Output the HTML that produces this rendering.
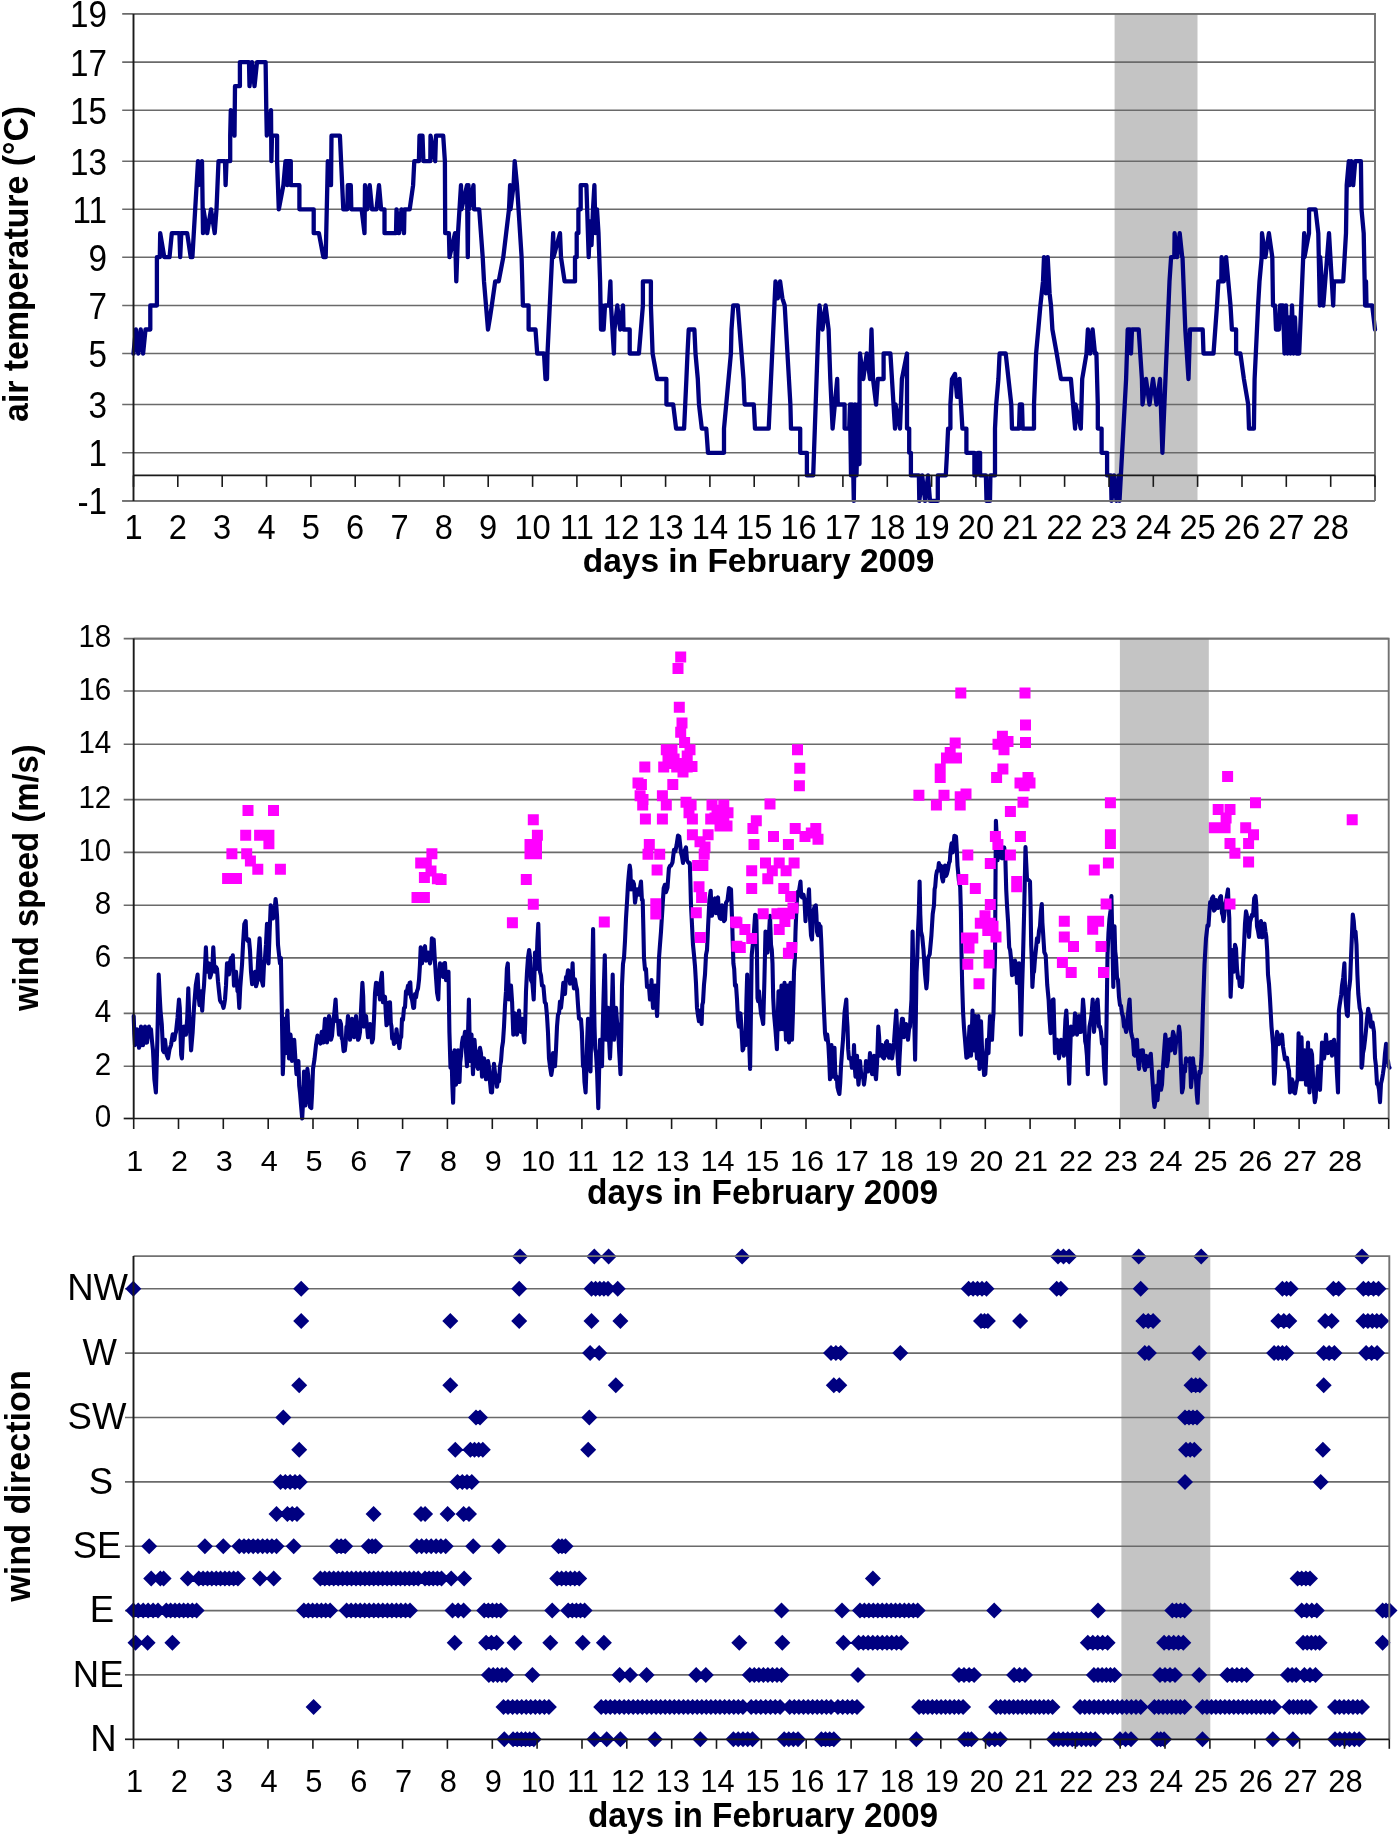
<!DOCTYPE html>
<html><head><meta charset="utf-8"><style>
html,body{margin:0;padding:0;background:#fff;}
svg{display:block;will-change:transform;}
text{font-family:"Liberation Sans", sans-serif;fill:#000;}
</style></head><body>
<svg width="1400" height="1835" viewBox="0 0 1400 1835">
<rect width="1400" height="1835" fill="#fff"/>
<rect x="1114.6" y="13.9" width="82.9" height="487.0" fill="#c4c4c4"/>
<line x1="122.2" y1="13.9" x2="1375.0" y2="13.9" stroke="#6a6a6a" stroke-width="1.6"/>
<line x1="122.2" y1="62.1" x2="1375.0" y2="62.1" stroke="#6a6a6a" stroke-width="1.6"/>
<line x1="122.2" y1="110.2" x2="1375.0" y2="110.2" stroke="#6a6a6a" stroke-width="1.6"/>
<line x1="122.2" y1="161.2" x2="1375.0" y2="161.2" stroke="#6a6a6a" stroke-width="1.6"/>
<line x1="122.2" y1="209.3" x2="1375.0" y2="209.3" stroke="#6a6a6a" stroke-width="1.6"/>
<line x1="122.2" y1="257.2" x2="1375.0" y2="257.2" stroke="#6a6a6a" stroke-width="1.6"/>
<line x1="122.2" y1="305.5" x2="1375.0" y2="305.5" stroke="#6a6a6a" stroke-width="1.6"/>
<line x1="122.2" y1="353.5" x2="1375.0" y2="353.5" stroke="#6a6a6a" stroke-width="1.6"/>
<line x1="122.2" y1="404.5" x2="1375.0" y2="404.5" stroke="#6a6a6a" stroke-width="1.6"/>
<line x1="122.2" y1="452.8" x2="1375.0" y2="452.8" stroke="#6a6a6a" stroke-width="1.6"/>
<line x1="122.2" y1="500.9" x2="1375.0" y2="500.9" stroke="#6a6a6a" stroke-width="1.6"/>
<polyline points="133.5,353.5 135.9,329.5 138.3,353.5 140.7,329.5 143.1,353.5 145.5,329.5 150.3,329.5 150.3,305.5 156.9,305.5 156.9,257.2 159.8,257.2 160.2,233.2 164.3,257.2 169.5,257.2 171.8,233.2 179.4,233.2 180.2,257.2 181.3,233.2 187.2,233.2 190.7,257.2 192.4,257.2 198.0,161.2 198.6,185.2 202.0,161.2 203.0,233.2 203.5,209.3 207.2,233.2 211.0,209.3 214.7,233.2 216.5,209.3 217.5,185.2 218.5,161.2 225.0,161.2 225.6,185.2 226.5,161.2 230.2,161.2 230.2,135.7 230.8,110.2 234.5,135.7 235.0,86.2 239.9,86.2 239.9,62.1 249.0,62.1 249.5,86.2 252.0,62.1 254.5,86.2 257.0,62.1 265.6,62.1 266.3,110.2 266.8,135.7 271.0,110.2 271.4,161.2 272.0,135.7 277.1,135.7 277.1,161.2 278.8,209.3 283.4,185.2 285.5,161.2 287.0,161.2 287.3,185.2 287.8,161.2 290.8,161.2 290.8,185.2 299.4,185.2 299.4,209.3 313.7,209.3 313.7,233.2 318.9,233.2 323.4,257.2 325.7,257.2 327.3,185.2 327.8,161.2 331.0,185.2 331.5,135.7 339.9,135.7 343.3,209.3 347.3,209.3 347.8,185.2 350.8,185.2 351.3,209.3 361.6,209.3 364.5,233.2 365.0,185.2 367.3,209.3 369.7,185.2 372.0,209.3 376.5,209.3 379.0,185.2 381.1,209.3 384.5,209.3 384.5,233.2 396.0,233.2 396.5,209.3 399.0,233.2 401.5,209.3 404.0,233.2 404.5,209.3 409.7,209.3 413.1,185.2 414.3,161.2 418.9,161.2 419.5,135.7 422.5,135.7 423.4,161.2 430.3,161.2 430.5,135.7 435.2,161.2 436.0,135.7 443.2,135.7 444.9,161.2 445.2,233.2 448.9,233.2 449.5,257.2 455.0,233.2 456.3,281.4 458.0,233.2 461.0,185.2 461.5,209.3 467.0,185.2 467.8,257.2 468.5,185.2 469.0,209.3 473.5,185.2 474.0,209.3 479.2,209.3 482.7,257.2 484.0,281.4 486.0,305.5 488.0,329.5 490.0,317.5 491.8,305.5 495.2,281.4 498.7,281.4 503.3,257.2 509.0,209.3 510.1,185.2 510.5,209.3 513.6,185.2 514.7,161.2 517.0,185.2 521.6,257.2 522.3,281.4 522.9,305.5 528.6,305.5 528.6,329.5 535.5,329.5 537.2,353.5 544.0,353.5 545.5,379.0 547.0,379.0 547.5,353.5 553.2,233.2 553.5,257.2 560.0,233.2 561.0,257.2 564.6,281.4 575.0,281.4 575.0,257.2 576.7,257.2 576.7,233.2 578.4,233.2 578.4,209.3 580.7,209.3 580.7,185.2 586.4,185.2 588.7,257.2 590.0,221.3 591.5,245.2 593.0,209.3 594.4,185.2 595.5,233.2 597.0,209.3 598.5,233.2 600.1,281.4 601.0,329.5 602.0,305.5 603.6,329.5 605.0,305.5 609.0,305.5 610.4,281.4 611.0,305.5 613.9,353.5 614.5,329.5 617.3,305.5 620.2,329.5 623.0,305.5 623.5,329.5 629.7,329.5 629.7,353.5 638.9,353.5 642.9,305.5 642.9,281.4 650.9,281.4 650.9,305.5 652.6,353.5 657.2,379.0 666.4,379.0 666.4,404.5 673.2,404.5 676.1,428.6 684.1,428.6 686.4,379.0 687.5,353.5 688.7,329.5 694.4,329.5 695.5,353.5 697.8,379.0 699.0,404.5 701.8,428.6 706.3,428.6 708.0,452.8 724.0,452.8 724.0,428.6 730.9,353.5 731.5,329.5 733.2,305.5 737.8,305.5 743.5,379.0 744.6,404.5 753.8,404.5 755.0,428.6 768.7,428.6 774.4,305.5 775.5,281.4 777.8,298.3 780.1,281.4 782.4,298.3 784.7,305.5 790.4,404.5 791.0,428.6 800.2,428.6 800.2,452.8 806.9,452.8 806.9,475.4 813.2,475.4 818.3,329.5 819.5,305.5 822.5,329.5 825.6,305.5 828.6,329.5 830.3,379.0 832.6,428.6 837.2,379.0 837.8,404.5 844.6,404.5 844.6,428.6 849.2,428.6 850.0,404.5 851.0,475.4 852.0,404.5 853.8,500.9 855.0,404.5 856.5,475.4 858.0,404.5 859.5,464.1 859.6,379.0 860.0,353.5 863.3,379.0 866.7,353.5 870.0,379.0 871.5,329.5 873.0,379.0 876.1,404.5 877.8,379.0 883.6,379.0 883.6,353.5 890.4,353.5 895.0,428.6 895.5,404.5 900.0,428.6 901.9,379.0 907.0,353.5 907.0,428.6 909.2,428.6 909.2,452.8 910.9,452.8 910.9,475.4 918.9,475.4 919.3,500.9 922.2,475.4 925.1,500.9 928.0,475.4 930.0,500.9 937.8,500.9 937.8,475.4 945.8,475.4 947.0,452.8 948.1,428.6 950.4,428.6 950.4,404.5 952.0,379.0 955.0,373.9 957.0,396.9 959.5,379.0 961.0,404.5 962.4,428.6 966.4,428.6 966.4,452.8 974.4,452.8 974.4,475.4 976.0,475.4 977.8,452.8 980.1,452.8 980.1,475.4 985.9,475.4 986.5,500.9 990.0,500.9 990.4,475.4 995.0,475.4 995.0,428.6 996.2,404.5 998.4,379.0 999.6,353.5 1005.3,353.5 1005.7,353.5 1011.3,404.5 1012.0,428.6 1019.0,428.6 1019.8,404.5 1022.0,404.5 1022.7,428.6 1034.0,428.6 1034.0,404.5 1036.1,353.5 1038.3,329.5 1040.4,305.5 1043.0,281.4 1044.0,257.2 1045.9,293.4 1047.7,257.2 1049.6,293.4 1051.0,305.5 1052.4,329.5 1056.7,353.5 1061.0,379.0 1070.9,379.0 1075.1,428.6 1075.5,404.5 1080.8,428.6 1082.2,379.0 1086.5,353.5 1087.9,329.5 1090.3,353.5 1092.6,329.5 1095.0,353.5 1096.4,353.5 1097.8,404.5 1097.8,428.6 1101.6,428.6 1101.6,452.8 1107.1,452.8 1107.1,475.4 1111.0,475.4 1111.5,500.9 1114.0,475.4 1116.5,500.9 1119.0,475.4 1119.5,500.9 1126.1,379.0 1127.7,329.5 1130.0,329.5 1131.0,353.5 1132.0,329.5 1138.7,329.5 1141.9,379.0 1142.5,404.5 1146.0,379.0 1149.5,404.5 1153.0,379.0 1156.5,404.5 1160.0,379.0 1162.4,452.8 1169.5,281.4 1171.1,257.2 1174.3,257.2 1174.6,233.2 1177.1,257.2 1179.7,233.2 1182.2,257.2 1182.5,257.2 1185.3,329.5 1188.5,379.0 1190.0,329.5 1202.7,329.5 1203.5,353.5 1205.0,353.5 1213.5,353.5 1217.0,305.5 1218.4,281.4 1221.3,281.4 1221.6,257.2 1223.8,281.4 1226.1,257.2 1228.3,281.4 1230.5,305.5 1231.9,329.5 1236.1,329.5 1236.1,353.5 1240.4,353.5 1243.9,379.0 1248.2,404.5 1249.0,428.6 1253.9,428.6 1254.6,379.0 1258.1,305.5 1259.5,281.4 1261.7,257.2 1262.0,233.2 1265.4,257.2 1268.9,233.2 1272.3,257.2 1273.0,305.5 1275.0,305.5 1276.0,329.5 1279.0,329.5 1280.0,305.5 1283.0,305.5 1284.5,353.5 1286.0,305.5 1287.5,353.5 1289.0,317.5 1290.5,353.5 1292.0,305.5 1293.5,353.5 1295.0,317.5 1296.5,353.5 1299.2,353.5 1304.2,233.2 1304.5,257.2 1309.0,233.2 1309.1,209.3 1315.5,209.3 1318.3,233.2 1319.8,305.5 1320.2,257.2 1323.3,305.5 1329.0,233.2 1330.4,257.2 1333.2,305.5 1334.0,281.4 1343.2,281.4 1346.0,233.2 1346.7,185.2 1348.8,161.2 1349.2,185.2 1351.2,161.2 1353.2,185.2 1355.2,161.2 1360.9,161.2 1361.5,209.3 1363.7,233.2 1365.1,305.5 1366.0,281.4 1366.5,305.5 1372.2,305.5 1375.0,329.5" fill="none" stroke="#000080" stroke-width="4.3" stroke-linejoin="round" stroke-linecap="round"/>
<path d="M133.5 13.9 H1375.0 V500.9" fill="none" stroke="#727272" stroke-width="1.9"/>
<line x1="122.2" y1="500.9" x2="1375.0" y2="500.9" stroke="#727272" stroke-width="1.9"/>
<line x1="133.5" y1="475.4" x2="1375.0" y2="475.4" stroke="#1a1a1a" stroke-width="1.7"/>
<line x1="133.5" y1="475.4" x2="133.5" y2="486.9" stroke="#1a1a1a" stroke-width="1.6"/>
<line x1="177.8" y1="475.4" x2="177.8" y2="486.9" stroke="#1a1a1a" stroke-width="1.6"/>
<line x1="222.2" y1="475.4" x2="222.2" y2="486.9" stroke="#1a1a1a" stroke-width="1.6"/>
<line x1="266.5" y1="475.4" x2="266.5" y2="486.9" stroke="#1a1a1a" stroke-width="1.6"/>
<line x1="310.9" y1="475.4" x2="310.9" y2="486.9" stroke="#1a1a1a" stroke-width="1.6"/>
<line x1="355.2" y1="475.4" x2="355.2" y2="486.9" stroke="#1a1a1a" stroke-width="1.6"/>
<line x1="399.5" y1="475.4" x2="399.5" y2="486.9" stroke="#1a1a1a" stroke-width="1.6"/>
<line x1="443.9" y1="475.4" x2="443.9" y2="486.9" stroke="#1a1a1a" stroke-width="1.6"/>
<line x1="488.2" y1="475.4" x2="488.2" y2="486.9" stroke="#1a1a1a" stroke-width="1.6"/>
<line x1="532.6" y1="475.4" x2="532.6" y2="486.9" stroke="#1a1a1a" stroke-width="1.6"/>
<line x1="576.9" y1="475.4" x2="576.9" y2="486.9" stroke="#1a1a1a" stroke-width="1.6"/>
<line x1="621.2" y1="475.4" x2="621.2" y2="486.9" stroke="#1a1a1a" stroke-width="1.6"/>
<line x1="665.6" y1="475.4" x2="665.6" y2="486.9" stroke="#1a1a1a" stroke-width="1.6"/>
<line x1="709.9" y1="475.4" x2="709.9" y2="486.9" stroke="#1a1a1a" stroke-width="1.6"/>
<line x1="754.2" y1="475.4" x2="754.2" y2="486.9" stroke="#1a1a1a" stroke-width="1.6"/>
<line x1="798.6" y1="475.4" x2="798.6" y2="486.9" stroke="#1a1a1a" stroke-width="1.6"/>
<line x1="842.9" y1="475.4" x2="842.9" y2="486.9" stroke="#1a1a1a" stroke-width="1.6"/>
<line x1="887.3" y1="475.4" x2="887.3" y2="486.9" stroke="#1a1a1a" stroke-width="1.6"/>
<line x1="931.6" y1="475.4" x2="931.6" y2="486.9" stroke="#1a1a1a" stroke-width="1.6"/>
<line x1="975.9" y1="475.4" x2="975.9" y2="486.9" stroke="#1a1a1a" stroke-width="1.6"/>
<line x1="1020.3" y1="475.4" x2="1020.3" y2="486.9" stroke="#1a1a1a" stroke-width="1.6"/>
<line x1="1064.6" y1="475.4" x2="1064.6" y2="486.9" stroke="#1a1a1a" stroke-width="1.6"/>
<line x1="1109.0" y1="475.4" x2="1109.0" y2="486.9" stroke="#1a1a1a" stroke-width="1.6"/>
<line x1="1153.3" y1="475.4" x2="1153.3" y2="486.9" stroke="#1a1a1a" stroke-width="1.6"/>
<line x1="1197.6" y1="475.4" x2="1197.6" y2="486.9" stroke="#1a1a1a" stroke-width="1.6"/>
<line x1="1242.0" y1="475.4" x2="1242.0" y2="486.9" stroke="#1a1a1a" stroke-width="1.6"/>
<line x1="1286.3" y1="475.4" x2="1286.3" y2="486.9" stroke="#1a1a1a" stroke-width="1.6"/>
<line x1="1330.7" y1="475.4" x2="1330.7" y2="486.9" stroke="#1a1a1a" stroke-width="1.6"/>
<line x1="1375.0" y1="475.4" x2="1375.0" y2="486.9" stroke="#1a1a1a" stroke-width="1.6"/>
<line x1="133.5" y1="13.9" x2="133.5" y2="500.9" stroke="#1a1a1a" stroke-width="1.9"/>
<text transform="translate(107.0,27.4) scale(0.91,1)" font-size="36.5" font-weight="normal" text-anchor="end">19</text>
<text transform="translate(107.0,75.6) scale(0.91,1)" font-size="36.5" font-weight="normal" text-anchor="end">17</text>
<text transform="translate(107.0,123.7) scale(0.91,1)" font-size="36.5" font-weight="normal" text-anchor="end">15</text>
<text transform="translate(107.0,174.7) scale(0.91,1)" font-size="36.5" font-weight="normal" text-anchor="end">13</text>
<text transform="translate(107.0,222.8) scale(0.91,1)" font-size="36.5" font-weight="normal" text-anchor="end">11</text>
<text transform="translate(107.0,270.7) scale(0.91,1)" font-size="36.5" font-weight="normal" text-anchor="end">9</text>
<text transform="translate(107.0,319.0) scale(0.91,1)" font-size="36.5" font-weight="normal" text-anchor="end">7</text>
<text transform="translate(107.0,367.0) scale(0.91,1)" font-size="36.5" font-weight="normal" text-anchor="end">5</text>
<text transform="translate(107.0,418.0) scale(0.91,1)" font-size="36.5" font-weight="normal" text-anchor="end">3</text>
<text transform="translate(107.0,466.3) scale(0.91,1)" font-size="36.5" font-weight="normal" text-anchor="end">1</text>
<text transform="translate(107.0,514.4) scale(0.91,1)" font-size="36.5" font-weight="normal" text-anchor="end">-1</text>
<text transform="translate(133.5,538.8) scale(0.92,1)" font-size="35.5" font-weight="normal" text-anchor="middle">1</text>
<text transform="translate(177.8,538.8) scale(0.92,1)" font-size="35.5" font-weight="normal" text-anchor="middle">2</text>
<text transform="translate(222.2,538.8) scale(0.92,1)" font-size="35.5" font-weight="normal" text-anchor="middle">3</text>
<text transform="translate(266.5,538.8) scale(0.92,1)" font-size="35.5" font-weight="normal" text-anchor="middle">4</text>
<text transform="translate(310.9,538.8) scale(0.92,1)" font-size="35.5" font-weight="normal" text-anchor="middle">5</text>
<text transform="translate(355.2,538.8) scale(0.92,1)" font-size="35.5" font-weight="normal" text-anchor="middle">6</text>
<text transform="translate(399.5,538.8) scale(0.92,1)" font-size="35.5" font-weight="normal" text-anchor="middle">7</text>
<text transform="translate(443.9,538.8) scale(0.92,1)" font-size="35.5" font-weight="normal" text-anchor="middle">8</text>
<text transform="translate(488.2,538.8) scale(0.92,1)" font-size="35.5" font-weight="normal" text-anchor="middle">9</text>
<text transform="translate(532.6,538.8) scale(0.92,1)" font-size="35.5" font-weight="normal" text-anchor="middle">10</text>
<text transform="translate(576.9,538.8) scale(0.92,1)" font-size="35.5" font-weight="normal" text-anchor="middle">11</text>
<text transform="translate(621.2,538.8) scale(0.92,1)" font-size="35.5" font-weight="normal" text-anchor="middle">12</text>
<text transform="translate(665.6,538.8) scale(0.92,1)" font-size="35.5" font-weight="normal" text-anchor="middle">13</text>
<text transform="translate(709.9,538.8) scale(0.92,1)" font-size="35.5" font-weight="normal" text-anchor="middle">14</text>
<text transform="translate(754.2,538.8) scale(0.92,1)" font-size="35.5" font-weight="normal" text-anchor="middle">15</text>
<text transform="translate(798.6,538.8) scale(0.92,1)" font-size="35.5" font-weight="normal" text-anchor="middle">16</text>
<text transform="translate(842.9,538.8) scale(0.92,1)" font-size="35.5" font-weight="normal" text-anchor="middle">17</text>
<text transform="translate(887.3,538.8) scale(0.92,1)" font-size="35.5" font-weight="normal" text-anchor="middle">18</text>
<text transform="translate(931.6,538.8) scale(0.92,1)" font-size="35.5" font-weight="normal" text-anchor="middle">19</text>
<text transform="translate(975.9,538.8) scale(0.92,1)" font-size="35.5" font-weight="normal" text-anchor="middle">20</text>
<text transform="translate(1020.3,538.8) scale(0.92,1)" font-size="35.5" font-weight="normal" text-anchor="middle">21</text>
<text transform="translate(1064.6,538.8) scale(0.92,1)" font-size="35.5" font-weight="normal" text-anchor="middle">22</text>
<text transform="translate(1109.0,538.8) scale(0.92,1)" font-size="35.5" font-weight="normal" text-anchor="middle">23</text>
<text transform="translate(1153.3,538.8) scale(0.92,1)" font-size="35.5" font-weight="normal" text-anchor="middle">24</text>
<text transform="translate(1197.6,538.8) scale(0.92,1)" font-size="35.5" font-weight="normal" text-anchor="middle">25</text>
<text transform="translate(1242.0,538.8) scale(0.92,1)" font-size="35.5" font-weight="normal" text-anchor="middle">26</text>
<text transform="translate(1286.3,538.8) scale(0.92,1)" font-size="35.5" font-weight="normal" text-anchor="middle">27</text>
<text transform="translate(1330.7,538.8) scale(0.92,1)" font-size="35.5" font-weight="normal" text-anchor="middle">28</text>
<text transform="translate(758.6,572.2) scale(0.985,1)" font-size="34" font-weight="bold" text-anchor="middle">days in February 2009</text>
<text transform="translate(28.4,263.9) rotate(-90) scale(0.966,1)" font-size="35" font-weight="bold" text-anchor="middle">air temperature (°C)</text>
<rect x="1119.9" y="638.6" width="88.9" height="479.9" fill="#c4c4c4"/>
<line x1="123.7" y1="1066.3" x2="1388.7" y2="1066.3" stroke="#6a6a6a" stroke-width="1.6"/>
<line x1="123.7" y1="1013.4" x2="1388.7" y2="1013.4" stroke="#6a6a6a" stroke-width="1.6"/>
<line x1="123.7" y1="957.9" x2="1388.7" y2="957.9" stroke="#6a6a6a" stroke-width="1.6"/>
<line x1="123.7" y1="905.3" x2="1388.7" y2="905.3" stroke="#6a6a6a" stroke-width="1.6"/>
<line x1="123.7" y1="852.4" x2="1388.7" y2="852.4" stroke="#6a6a6a" stroke-width="1.6"/>
<line x1="123.7" y1="799.6" x2="1388.7" y2="799.6" stroke="#6a6a6a" stroke-width="1.6"/>
<line x1="123.7" y1="744.2" x2="1388.7" y2="744.2" stroke="#6a6a6a" stroke-width="1.6"/>
<line x1="123.7" y1="691.0" x2="1388.7" y2="691.0" stroke="#6a6a6a" stroke-width="1.6"/>
<line x1="123.7" y1="638.6" x2="1388.7" y2="638.6" stroke="#6a6a6a" stroke-width="1.6"/>
<polyline points="133.7,1016.0 134.3,1033.9 135.0,1045.1 136.0,1043.7 137.0,1029.3 138.0,1035.7 139.0,1047.8 140.0,1045.1 141.0,1026.6 142.0,1035.2 143.0,1045.1 144.0,1038.4 145.0,1026.6 146.0,1042.7 147.0,1042.5 148.0,1034.4 149.0,1026.6 150.0,1036.5 151.0,1029.3 152.0,1041.1 153.0,1050.4 154.4,1079.4 155.9,1092.4 157.3,1042.1 158.7,974.5 159.6,994.1 160.5,1010.6 161.8,1024.5 163.0,1050.4 164.0,1052.1 165.0,1039.8 166.5,1054.2 168.0,1058.4 169.5,1049.4 171.0,1045.1 172.7,1034.2 174.4,1039.8 175.2,1034.5 176.0,1031.9 177.5,1018.0 179.0,999.5 179.8,1008.3 180.5,1034.6 181.2,1054.9 181.9,1058.4 182.9,1035.9 184.0,1026.6 185.0,1034.5 186.0,1034.6 187.2,1018.7 188.3,988.4 189.2,1015.2 190.0,1026.6 191.1,1050.4 192.6,1032.8 194.0,1007.9 195.8,985.1 197.6,974.5 198.6,996.0 199.5,1005.1 200.2,996.6 201.0,991.2 202.2,1010.6 203.1,995.4 204.0,985.6 204.9,968.7 205.9,947.4 207.0,971.8 208.0,966.7 209.0,963.4 210.0,977.5 211.0,974.5 212.2,969.2 213.3,947.4 214.2,965.0 215.0,971.8 216.0,966.9 217.0,969.0 218.0,981.5 219.0,991.2 220.0,1000.4 221.0,1002.3 222.2,1003.4 223.5,1007.9 224.2,1004.6 225.0,999.5 226.0,985.4 227.0,963.4 228.0,963.3 229.0,974.5 230.0,962.4 231.0,957.9 231.9,961.5 232.8,955.3 234.0,985.6 235.0,977.3 236.0,971.8 236.8,981.0 237.5,991.2 238.4,992.2 239.3,1007.9 240.2,988.1 241.0,977.3 242.0,964.8 243.0,944.8 244.3,924.1 245.7,921.1 246.3,937.3 247.0,939.5 248.0,941.0 249.0,939.5 250.0,950.5 251.0,971.8 252.1,984.1 253.1,982.9 254.1,977.5 255.0,971.8 256.0,986.3 257.0,982.9 258.3,956.8 259.6,938.2 260.3,953.7 261.0,980.1 262.0,981.5 263.0,985.6 264.0,964.5 265.0,957.9 266.0,944.2 267.0,923.7 267.8,939.8 268.5,963.4 269.6,932.5 270.7,905.3 271.9,910.4 273.0,918.4 274.0,912.7 275.0,905.3 275.6,899.0 276.3,905.3 277.1,916.8 278.0,944.8 279.0,954.4 280.0,963.4 280.9,957.9 281.9,1014.3 282.8,1074.1 283.6,1054.6 284.4,1018.7 285.5,1053.1 286.4,1028.2 287.4,1010.6 288.2,1031.8 289.0,1058.4 289.8,1037.3 290.5,1034.6 291.2,1041.8 292.0,1061.0 293.1,1054.4 294.2,1039.8 295.4,1059.2 296.5,1074.1 297.4,1064.5 298.4,1061.0 299.2,1085.5 300.0,1092.4 301.1,1106.1 302.2,1118.5 303.1,1101.1 304.0,1071.5 304.8,1095.5 305.5,1105.5 306.4,1095.2 307.4,1068.9 308.2,1075.8 309.0,1092.4 310.1,1107.0 311.3,1108.1 312.1,1093.1 313.0,1068.9 314.5,1059.1 316.0,1045.1 317.5,1035.6 319.0,1039.8 320.4,1043.6 321.7,1031.9 322.6,1038.1 323.5,1042.5 324.2,1029.7 325.0,1018.7 326.0,1023.5 327.0,1042.5 328.0,1023.4 329.0,1016.0 330.0,1021.2 331.0,1039.8 332.0,1036.0 333.0,1024.0 334.3,1013.6 335.6,999.5 336.3,1013.4 337.0,1021.3 338.0,1020.8 339.0,1034.6 340.0,1020.8 341.0,1024.0 341.8,1038.4 342.5,1039.8 343.6,1051.1 344.8,1050.4 345.6,1043.5 346.5,1026.6 347.2,1026.3 348.0,1016.0 349.0,1028.2 350.0,1039.8 351.0,1027.6 352.0,1018.7 353.0,1032.3 354.0,1037.2 355.0,1035.8 356.0,1016.0 357.0,1029.4 358.0,1039.8 359.0,1038.3 360.0,1031.9 361.2,1006.6 362.4,982.9 363.2,996.3 364.0,1026.6 365.0,1017.8 366.0,1016.0 367.0,1026.3 368.0,1037.2 369.0,1028.4 370.0,1024.0 371.0,1030.0 372.0,1042.5 373.0,1038.9 374.0,1018.7 375.0,993.2 376.0,982.9 377.0,983.0 378.0,994.0 379.0,989.5 380.0,999.5 380.9,980.4 381.9,972.9 383.0,1002.3 384.0,1001.6 385.0,996.8 385.8,1013.3 386.5,1025.3 387.2,1024.0 388.0,1007.9 389.0,1002.5 390.0,1002.3 390.8,1022.8 391.5,1026.6 392.2,1038.6 393.0,1034.6 393.9,1043.9 394.8,1042.5 395.6,1042.1 396.5,1029.3 397.5,1038.8 398.5,1042.5 399.4,1048.1 400.4,1037.2 401.2,1037.2 402.0,1018.7 403.0,1019.9 404.0,1007.9 405.0,1007.3 406.0,991.2 407.0,991.1 408.0,985.6 408.8,993.5 409.6,982.9 410.3,982.5 411.0,996.8 412.1,1000.1 413.3,1007.9 414.1,1007.7 415.0,994.0 416.0,997.4 417.0,991.2 418.0,988.6 419.0,980.1 419.9,966.1 420.7,947.4 421.4,962.5 422.0,963.4 423.0,950.2 424.0,950.0 425.0,946.2 426.0,960.7 427.0,957.2 428.0,952.6 429.0,958.2 430.0,963.4 430.9,958.3 431.9,938.2 432.8,946.2 433.7,939.5 434.9,961.0 436.0,977.3 437.1,993.0 438.3,999.5 439.1,975.1 440.0,963.4 441.0,974.2 442.0,971.8 443.0,976.9 444.0,963.4 445.0,963.0 446.0,980.1 447.2,975.4 448.5,971.8 449.4,1031.9 450.5,1067.6 451.5,1053.1 452.3,1084.5 453.1,1102.8 453.8,1076.0 454.5,1050.4 455.2,1076.2 456.0,1084.6 457.0,1067.1 458.0,1050.4 458.8,1057.4 459.5,1082.0 460.2,1062.2 461.0,1055.7 462.0,1042.8 463.0,1037.2 464.0,1039.0 465.0,1031.9 466.0,1051.6 467.0,1066.3 467.9,1039.4 468.9,999.5 470.0,1061.0 470.8,1042.8 471.5,1034.6 472.2,1053.8 473.0,1074.1 473.8,1051.9 474.5,1039.8 475.2,1049.6 476.0,1053.1 477.0,1066.1 478.0,1068.9 479.0,1052.6 480.0,1047.8 481.0,1053.4 482.0,1076.7 483.0,1061.1 484.0,1058.4 485.0,1063.3 486.0,1079.3 487.0,1064.4 488.0,1061.0 489.0,1067.1 490.0,1082.0 491.0,1092.2 492.0,1092.4 493.0,1077.7 494.0,1063.7 495.0,1072.9 496.0,1076.7 497.0,1086.7 498.0,1079.3 499.0,1081.4 500.0,1066.3 501.0,1061.1 502.0,1047.8 503.0,1041.7 504.0,1026.6 505.0,1005.5 506.0,991.2 506.9,968.5 507.8,963.4 509.0,999.5 510.0,993.6 511.0,985.6 512.1,1002.1 513.3,1034.6 514.1,1014.9 515.0,1013.4 516.0,1015.6 517.0,1034.6 518.0,1025.2 519.0,1010.6 520.0,1026.5 521.0,1031.9 521.8,1030.4 522.5,1018.7 523.5,1036.2 524.4,1042.5 525.2,1022.8 526.0,991.2 527.0,972.1 528.0,957.9 529.1,950.0 530.0,957.1 531.0,980.1 532.4,983.2 533.7,999.5 534.4,976.3 535.0,952.6 535.8,957.7 536.5,969.0 537.4,940.5 538.3,923.7 539.1,955.0 540.0,971.8 541.0,975.6 542.0,985.6 543.4,986.0 544.8,1002.3 545.9,1003.8 547.0,1016.0 548.0,1032.6 549.0,1058.4 550.1,1067.1 551.3,1074.9 552.1,1070.0 553.0,1053.1 554.0,1054.3 555.0,1066.3 556.0,1049.6 557.0,1026.6 558.0,1014.4 559.0,1013.4 560.0,1001.5 561.0,1007.9 562.1,997.4 563.3,982.9 564.1,990.3 565.0,994.0 566.0,977.0 567.0,977.3 568.0,970.2 569.0,971.8 570.0,983.7 571.0,982.9 571.8,980.4 572.6,963.4 573.3,982.7 574.0,988.4 575.0,979.2 576.0,985.6 577.0,989.4 578.0,1005.1 579.0,1018.6 580.0,1018.7 581.0,1019.3 581.9,1031.9 583.0,1066.3 583.8,1065.3 584.5,1082.0 585.6,1092.4 586.5,1066.3 587.2,1039.6 588.0,1018.7 589.2,1047.9 590.5,1071.5 591.8,1000.0 593.1,929.0 593.8,984.5 594.5,1026.6 595.2,1048.8 596.0,1053.1 597.1,1072.1 598.3,1108.1 599.1,1071.4 600.0,1039.8 601.0,1052.6 602.0,1066.3 602.8,1025.2 603.5,999.5 604.1,978.6 604.8,955.3 605.4,990.9 606.0,1039.8 607.0,1017.9 608.0,1007.9 609.0,1038.6 610.0,1058.4 610.8,1040.5 611.5,1013.4 612.1,998.0 612.7,974.5 613.4,1012.9 614.0,1039.8 615.0,1022.4 616.0,1007.9 617.0,1021.8 618.0,1026.6 619.2,1051.9 620.5,1074.1 621.2,1037.4 622.0,985.6 623.0,963.8 624.0,957.9 625.0,940.9 626.0,918.4 627.0,902.1 628.0,884.1 628.9,873.3 629.7,865.6 630.4,870.0 631.0,889.4 632.0,886.9 633.0,881.5 634.0,884.3 635.0,902.7 636.0,896.0 637.0,889.4 638.0,891.5 639.0,894.7 640.0,887.7 641.0,881.5 641.9,899.7 642.7,900.0 643.4,930.1 644.0,957.9 645.0,969.6 646.0,969.0 647.0,987.0 648.0,985.6 649.0,986.8 650.0,999.5 650.8,996.2 651.5,980.1 652.2,994.5 653.0,1007.9 654.0,992.4 655.0,985.6 656.0,999.8 657.1,1016.0 658.0,990.4 659.0,957.9 660.0,944.4 661.0,931.6 662.4,908.9 663.7,888.1 664.9,884.8 666.0,892.1 667.5,887.5 668.9,868.3 670.0,865.8 671.0,865.6 672.5,862.3 674.0,849.8 675.4,851.2 676.7,844.5 678.0,835.5 679.3,836.6 680.1,844.3 681.0,852.4 682.0,856.5 683.0,863.0 684.0,851.6 685.0,849.8 686.0,847.4 687.0,860.3 688.4,862.7 689.8,863.0 690.4,882.1 691.0,905.3 692.0,924.9 693.0,944.8 694.0,955.0 695.0,966.2 696.0,983.3 697.0,1007.9 698.0,1015.6 699.0,1021.3 699.6,1015.4 700.3,1010.6 701.0,1017.8 701.6,1024.0 702.3,1004.8 703.0,1002.3 704.0,984.6 705.0,974.5 706.0,954.9 707.0,950.0 708.1,926.3 709.4,900.4 710.7,890.8 711.4,907.8 712.0,915.8 713.0,906.8 714.0,900.0 715.0,898.4 716.0,913.2 717.0,899.0 718.0,897.4 719.0,914.6 720.0,918.4 721.0,918.8 722.0,905.3 723.0,914.3 724.0,921.1 725.0,919.7 726.0,902.7 727.5,900.2 729.0,888.1 730.0,896.7 731.0,889.4 732.2,923.2 733.4,963.4 734.2,969.0 735.0,985.6 736.0,984.9 737.0,999.5 738.0,1019.8 739.0,1026.6 739.8,1016.0 740.5,1013.4 741.5,1028.9 742.6,1050.4 743.3,1049.1 744.0,1034.6 744.8,1032.8 745.5,1045.1 746.4,1001.5 747.2,974.5 747.9,1013.3 748.5,1039.8 749.3,1046.0 750.1,1068.9 750.9,1015.3 751.7,955.3 752.9,943.7 754.0,931.6 755.1,914.7 756.3,915.8 756.9,949.8 757.5,998.1 758.2,1001.2 759.0,991.2 760.0,1003.6 761.0,1013.4 762.1,1018.4 763.2,1024.0 764.4,980.5 765.5,931.6 766.5,947.7 767.5,952.6 768.8,937.6 770.0,915.8 771.0,944.8 771.8,949.9 772.5,963.4 773.2,997.8 774.0,1013.4 775.5,1030.3 776.9,1049.1 777.7,1021.8 778.5,991.2 779.2,1019.7 780.0,1029.3 780.8,1011.1 781.5,985.6 782.2,1005.4 783.0,1029.3 783.8,1006.2 784.5,982.9 785.2,1020.1 786.0,1039.8 786.8,1004.0 787.5,985.6 788.2,1009.2 789.0,1042.5 789.8,1004.2 790.5,982.9 791.2,1019.4 792.0,1039.8 793.0,1011.0 794.0,971.8 794.8,959.9 795.5,931.6 796.5,906.7 797.5,892.1 799.0,891.0 800.5,881.5 801.2,896.3 802.0,897.4 802.8,897.5 803.5,894.7 804.5,900.3 805.5,921.1 806.2,907.3 807.0,905.3 808.0,901.8 809.0,889.4 810.0,918.4 811.0,935.4 812.0,939.5 812.8,917.3 813.5,910.6 814.6,906.6 815.8,905.3 816.4,914.8 817.0,931.6 818.0,935.2 819.0,923.7 819.8,933.2 820.5,926.3 821.2,940.0 822.0,960.7 823.0,987.1 824.0,1010.6 825.0,1033.2 826.0,1039.8 827.2,1034.4 828.4,1045.1 829.2,1059.8 830.0,1079.3 830.8,1056.7 831.5,1045.1 832.2,1068.7 833.0,1076.7 833.8,1055.7 834.5,1047.8 835.2,1071.6 836.0,1079.3 836.8,1076.6 837.5,1087.2 838.5,1091.4 839.4,1094.0 840.2,1083.1 841.0,1066.3 842.0,1052.1 843.0,1039.8 844.6,1012.0 846.3,999.5 846.9,1017.7 847.5,1026.6 848.2,1049.4 849.0,1058.4 850.0,1057.9 851.0,1058.4 851.9,1067.8 852.7,1067.6 853.4,1063.6 854.0,1045.1 854.8,1067.3 855.5,1076.7 856.2,1074.5 857.0,1055.7 857.8,1075.7 858.5,1084.6 859.2,1076.3 860.0,1061.0 861.0,1072.5 862.0,1076.7 863.0,1075.9 864.0,1084.6 865.0,1076.7 866.0,1061.0 867.0,1066.3 868.0,1071.5 869.0,1068.3 870.0,1053.1 871.0,1066.5 872.0,1074.1 873.0,1073.8 874.0,1055.7 875.0,1072.2 876.0,1079.3 877.1,1062.0 878.3,1026.6 879.1,1036.9 880.0,1055.7 881.0,1049.5 882.0,1045.1 883.0,1057.5 884.0,1058.4 885.0,1050.9 886.0,1042.5 887.0,1041.1 888.0,1055.7 889.0,1057.7 890.0,1045.1 891.0,1045.8 892.0,1058.4 893.0,1051.7 894.0,1042.5 895.1,1026.7 896.3,1010.6 896.9,1025.7 897.5,1053.1 898.1,1065.6 898.8,1074.1 899.6,1056.9 900.5,1039.8 901.2,1025.8 902.0,1018.7 903.0,1019.0 904.0,1037.2 905.0,1033.5 906.0,1024.0 907.0,1025.8 908.0,1039.8 909.0,1029.4 910.0,1026.6 910.8,1010.8 911.5,999.5 912.6,931.6 913.8,999.5 914.5,1031.7 915.1,1059.7 915.8,1019.5 916.5,971.8 917.2,959.6 918.0,931.6 918.8,913.4 919.6,881.5 920.3,914.5 921.0,931.6 922.2,936.4 923.5,950.0 925.0,973.7 926.4,988.4 927.2,979.7 928.0,957.9 929.7,954.4 931.4,935.5 932.7,914.1 934.0,905.3 934.6,889.2 935.2,886.8 936.1,875.7 937.0,870.9 938.0,871.0 938.9,863.0 940.0,869.1 941.0,865.6 942.0,877.4 943.0,881.5 944.0,874.3 945.0,865.6 946.0,875.9 947.0,873.6 948.0,869.3 949.0,863.0 949.8,861.4 950.5,851.1 951.6,843.2 952.7,852.4 954.4,835.7 956.0,836.6 956.8,850.2 957.5,865.6 958.9,880.9 960.2,886.8 960.9,911.2 961.5,952.6 962.2,985.2 963.0,1010.6 964.0,1028.0 965.0,1039.8 966.4,1057.7 967.8,1057.0 968.6,1044.0 969.5,1026.6 970.2,1041.6 971.0,1055.7 971.8,1033.2 972.5,1010.6 973.2,1036.1 974.0,1050.4 974.8,1033.1 975.5,1016.0 976.2,1046.4 977.0,1058.4 977.6,1041.6 978.3,1016.0 978.9,1050.1 979.5,1068.9 980.2,1047.0 981.0,1021.3 982.0,1048.3 983.0,1058.4 984.1,1075.0 985.3,1074.1 986.1,1060.7 987.0,1039.8 987.8,1051.4 988.5,1053.1 989.2,1033.0 990.0,1016.0 991.0,1027.4 992.0,1039.8 992.8,1022.0 993.5,1013.4 994.2,982.6 995.0,957.9 995.9,820.7 996.7,836.5 997.5,860.3 998.2,846.7 999.0,847.1 1000.0,854.4 1001.0,857.7 1002.0,858.3 1003.0,852.4 1004.2,847.4 1005.4,860.3 1006.2,889.3 1007.0,905.3 1008.1,922.2 1009.2,947.4 1010.1,950.0 1011.0,957.9 1012.0,975.1 1013.0,974.5 1014.0,961.1 1015.0,960.7 1016.0,964.2 1017.0,982.9 1018.0,970.7 1019.0,963.4 1020.0,995.0 1021.0,1034.6 1022.0,990.7 1023.0,957.9 1024.2,909.3 1025.5,847.1 1026.2,862.5 1027.0,878.8 1028.5,880.1 1030.0,881.5 1030.6,907.0 1031.2,944.8 1031.8,959.6 1032.4,987.0 1033.2,973.1 1034.0,971.8 1035.0,958.3 1036.0,948.7 1037.0,938.2 1038.0,942.1 1039.0,930.9 1040.0,926.3 1040.9,911.6 1041.8,904.0 1042.4,922.8 1043.0,931.6 1044.3,952.1 1045.7,955.3 1047.2,984.5 1048.6,999.5 1049.6,1019.3 1050.6,1033.2 1051.3,1030.6 1052.0,1013.4 1052.8,999.9 1053.5,999.5 1054.2,1025.5 1055.0,1053.1 1056.0,1044.1 1057.0,1039.8 1058.0,1046.8 1059.0,1058.4 1060.0,1045.8 1061.0,1039.8 1062.2,1046.7 1063.3,1053.1 1063.9,1055.7 1064.5,1039.8 1065.4,1019.8 1066.3,1010.6 1066.9,1020.7 1067.5,1039.8 1068.3,1061.9 1069.2,1083.8 1070.1,1054.7 1071.0,1026.6 1072.0,1027.6 1073.0,1034.6 1074.0,1032.0 1075.0,1013.4 1076.0,1019.6 1077.0,1034.6 1078.0,1029.9 1079.0,1016.0 1080.0,1031.9 1081.0,1031.9 1082.0,1020.4 1083.0,999.5 1083.8,1008.9 1084.5,1026.6 1085.2,1041.3 1086.0,1045.1 1086.9,1055.2 1087.8,1074.1 1088.7,1041.6 1089.5,1026.6 1090.2,1022.8 1091.0,1018.7 1091.8,1011.5 1092.7,999.5 1093.3,1016.4 1094.0,1031.9 1095.0,1020.6 1096.0,1016.0 1096.8,1002.7 1097.6,999.5 1098.3,1011.1 1099.0,1026.6 1100.0,1026.6 1101.0,1031.9 1102.0,1043.7 1103.0,1039.8 1104.2,1068.4 1105.5,1083.8 1106.5,1025.5 1107.5,955.3 1108.5,932.4 1109.5,918.4 1110.5,910.9 1111.4,896.0 1112.5,944.8 1113.3,987.0 1113.9,954.7 1114.5,926.3 1115.2,951.1 1116.0,957.9 1117.0,977.5 1118.0,980.1 1119.0,997.1 1120.0,1005.1 1121.0,1005.9 1122.0,1013.4 1123.0,1016.5 1124.0,1026.6 1125.0,1026.0 1126.1,1031.9 1126.8,1029.2 1127.5,1018.7 1128.5,1008.9 1129.6,999.5 1130.3,1016.7 1131.0,1031.9 1132.0,1036.5 1133.0,1039.8 1134.0,1054.8 1135.0,1055.7 1136.0,1040.5 1137.0,1039.8 1138.0,1060.0 1139.0,1068.9 1140.4,1050.8 1141.8,1050.4 1142.9,1050.3 1144.0,1066.3 1145.0,1069.9 1146.0,1055.7 1147.0,1061.8 1148.0,1066.3 1149.0,1056.4 1150.0,1058.4 1150.8,1053.7 1151.6,1066.3 1152.3,1077.7 1153.0,1087.2 1153.8,1101.3 1154.5,1107.0 1155.2,1102.4 1156.0,1087.2 1156.8,1085.6 1157.5,1100.2 1158.2,1091.2 1159.0,1071.5 1160.0,1079.2 1161.0,1089.8 1162.0,1084.6 1163.0,1066.3 1164.2,1050.0 1165.3,1034.6 1166.2,1042.0 1167.0,1066.3 1168.0,1059.9 1169.0,1039.8 1170.0,1039.2 1171.0,1050.4 1172.0,1041.0 1173.0,1031.9 1174.0,1035.3 1175.0,1053.1 1176.0,1042.7 1177.0,1039.8 1178.0,1038.2 1179.0,1026.6 1179.8,1032.5 1180.5,1053.1 1181.2,1073.1 1182.0,1092.4 1183.0,1088.0 1184.0,1066.3 1185.0,1071.5 1186.0,1058.4 1187.0,1059.8 1188.0,1061.0 1189.0,1060.6 1190.0,1058.4 1191.0,1087.2 1192.0,1076.4 1193.0,1058.4 1193.8,1068.9 1194.5,1066.3 1195.2,1075.7 1196.0,1079.3 1196.8,1094.5 1197.6,1102.8 1198.5,1081.0 1199.5,1071.5 1200.5,1072.8 1201.6,1055.7 1203.0,1006.3 1204.5,964.6 1206.0,938.5 1207.5,925.3 1208.5,925.6 1209.4,911.9 1210.2,902.0 1211.0,907.9 1211.8,898.7 1212.5,897.4 1213.2,896.5 1214.0,910.6 1215.0,909.2 1216.0,900.0 1217.0,906.3 1218.0,907.9 1219.0,904.6 1220.0,897.4 1221.0,896.1 1222.0,913.2 1222.8,915.5 1223.5,921.1 1224.2,915.8 1225.0,905.3 1226.5,898.7 1228.0,889.4 1228.7,908.1 1229.3,918.4 1229.9,965.3 1230.6,996.8 1231.3,980.9 1232.0,950.0 1232.8,954.4 1233.5,971.8 1234.2,962.1 1235.0,944.8 1236.0,948.6 1237.0,969.0 1238.0,978.0 1239.0,977.3 1239.8,986.0 1240.5,985.6 1241.2,986.1 1241.8,987.0 1242.4,981.3 1243.0,963.4 1244.0,945.8 1245.0,923.7 1246.0,911.4 1247.0,915.8 1248.0,919.3 1249.0,936.9 1250.0,921.9 1251.0,918.4 1252.0,914.7 1253.0,915.8 1254.2,898.3 1255.5,896.0 1256.2,903.1 1257.0,926.3 1258.0,930.7 1259.0,936.9 1260.0,924.9 1261.0,921.1 1262.0,937.3 1263.0,936.9 1263.8,926.0 1264.5,923.7 1265.4,931.2 1266.3,936.9 1267.2,950.6 1268.0,974.5 1269.0,984.2 1270.0,999.5 1271.5,1026.6 1273.1,1045.1 1274.1,1083.8 1275.0,1072.8 1276.0,1045.1 1277.0,1031.9 1278.0,1034.6 1279.0,1044.1 1280.0,1039.8 1281.0,1037.7 1282.0,1034.6 1283.0,1046.7 1284.0,1053.1 1285.0,1059.5 1286.0,1058.4 1287.0,1057.9 1288.0,1066.3 1289.0,1070.6 1290.0,1092.4 1291.0,1090.3 1292.0,1079.3 1293.0,1083.0 1294.0,1092.4 1295.0,1093.4 1296.0,1087.2 1296.8,1082.2 1297.6,1079.3 1298.6,1033.2 1299.3,1058.3 1300.0,1079.3 1300.8,1064.5 1301.5,1037.2 1302.2,1064.6 1303.0,1079.3 1303.8,1070.3 1304.5,1050.4 1305.2,1060.1 1306.0,1084.6 1307.0,1063.7 1308.0,1042.5 1308.8,1072.7 1309.5,1092.4 1310.2,1064.1 1311.0,1050.4 1312.0,1054.5 1313.0,1076.7 1313.9,1090.3 1314.8,1102.1 1315.7,1097.3 1316.5,1079.3 1317.2,1078.4 1318.0,1066.3 1319.0,1085.5 1320.0,1089.8 1321.0,1069.2 1322.0,1042.5 1323.0,1058.0 1324.0,1058.4 1325.0,1051.3 1326.0,1034.6 1327.0,1048.3 1328.0,1053.1 1329.0,1046.5 1330.0,1042.5 1331.0,1041.9 1332.0,1055.7 1333.0,1043.2 1334.0,1039.8 1335.0,1048.1 1336.0,1053.1 1337.0,1074.4 1338.0,1092.4 1338.9,1010.6 1339.7,1004.6 1340.5,999.5 1341.2,995.0 1342.0,985.6 1343.2,977.7 1344.4,963.4 1345.2,992.8 1346.0,1005.1 1346.9,1014.9 1347.8,1016.0 1348.7,991.8 1349.5,985.6 1350.2,979.0 1351.0,957.9 1351.9,936.1 1352.8,914.5 1353.7,920.7 1354.5,931.6 1355.5,931.5 1356.5,944.8 1357.4,974.5 1358.3,994.0 1359.7,1008.1 1361.1,1013.4 1361.5,1067.6 1362.2,1065.0 1363.0,1053.1 1364.0,1048.3 1365.0,1039.8 1366.0,1030.3 1367.0,1018.7 1368.2,1008.7 1369.4,1016.0 1370.2,1014.9 1371.0,1026.6 1372.5,1022.4 1374.0,1031.9 1375.0,1058.0 1376.0,1066.3 1377.0,1084.0 1378.0,1084.6 1379.0,1089.5 1380.0,1102.1 1381.0,1083.5 1382.0,1079.3 1383.0,1073.3 1384.0,1066.3 1385.0,1053.4 1386.1,1043.8 1387.0,1061.7 1388.0,1061.0 1388.8,1066.3 1389.5,1067.6" fill="none" stroke="#000080" stroke-width="4.1" stroke-linejoin="round" stroke-linecap="round"/><path d="M242.5 804.9h11.0v11.0h-11.0zM268.0 804.9h11.0v11.0h-11.0zM240.2 829.7h11.0v11.0h-11.0zM254.1 829.7h11.0v11.0h-11.0zM263.4 829.7h11.0v11.0h-11.0zM263.4 838.2h11.0v11.0h-11.0zM226.4 848.2h11.0v11.0h-11.0zM241.2 848.2h11.0v11.0h-11.0zM244.9 855.6h11.0v11.0h-11.0zM252.3 863.8h11.0v11.0h-11.0zM274.9 863.8h11.0v11.0h-11.0zM222.1 873.1h11.0v11.0h-11.0zM231.0 873.1h11.0v11.0h-11.0zM415.2 857.5h11.0v11.0h-11.0zM420.8 857.5h11.0v11.0h-11.0zM418.9 872.0h11.0v11.0h-11.0zM426.4 848.2h11.0v11.0h-11.0zM431.9 873.3h11.0v11.0h-11.0zM411.5 891.9h11.0v11.0h-11.0zM418.9 891.9h11.0v11.0h-11.0zM425.5 865.4h11.0v11.0h-11.0zM435.6 873.9h11.0v11.0h-11.0zM527.8 814.2h11.0v11.0h-11.0zM531.9 829.7h11.0v11.0h-11.0zM524.5 839.0h11.0v11.0h-11.0zM531.0 839.0h11.0v11.0h-11.0zM524.5 848.2h11.0v11.0h-11.0zM531.0 848.2h11.0v11.0h-11.0zM520.8 873.9h11.0v11.0h-11.0zM527.8 898.7h11.0v11.0h-11.0zM506.9 917.2h11.0v11.0h-11.0zM598.8 916.4h11.0v11.0h-11.0zM675.2 651.4h11.0v11.0h-11.0zM672.5 663.0h11.0v11.0h-11.0zM673.8 701.7h11.0v11.0h-11.0zM676.5 717.4h11.0v11.0h-11.0zM675.2 726.7h11.0v11.0h-11.0zM679.1 737.1h11.0v11.0h-11.0zM660.8 744.2h11.0v11.0h-11.0zM681.7 750.6h11.0v11.0h-11.0zM668.6 753.4h11.0v11.0h-11.0zM658.2 761.4h11.0v11.0h-11.0zM671.2 761.4h11.0v11.0h-11.0zM681.7 761.4h11.0v11.0h-11.0zM639.3 761.4h11.0v11.0h-11.0zM667.3 779.1h11.0v11.0h-11.0zM635.9 779.1h11.0v11.0h-11.0zM634.6 790.2h11.0v11.0h-11.0zM656.9 790.2h11.0v11.0h-11.0zM637.2 799.4h11.0v11.0h-11.0zM660.8 799.4h11.0v11.0h-11.0zM685.6 799.4h11.0v11.0h-11.0zM718.3 799.4h11.0v11.0h-11.0zM639.9 813.6h11.0v11.0h-11.0zM656.9 813.6h11.0v11.0h-11.0zM686.9 813.6h11.0v11.0h-11.0zM705.2 813.6h11.0v11.0h-11.0zM718.3 813.6h11.0v11.0h-11.0zM711.5 804.7h11.0v11.0h-11.0zM714.5 820.5h11.0v11.0h-11.0zM686.9 829.2h11.0v11.0h-11.0zM702.6 829.2h11.0v11.0h-11.0zM643.8 839.0h11.0v11.0h-11.0zM654.2 848.8h11.0v11.0h-11.0zM642.5 848.8h11.0v11.0h-11.0zM698.7 848.8h11.0v11.0h-11.0zM697.4 860.1h11.0v11.0h-11.0zM692.1 860.1h11.0v11.0h-11.0zM651.6 864.4h11.0v11.0h-11.0zM693.5 881.3h11.0v11.0h-11.0zM696.1 891.9h11.0v11.0h-11.0zM650.3 898.2h11.0v11.0h-11.0zM650.3 908.5h11.0v11.0h-11.0zM690.8 907.2h11.0v11.0h-11.0zM694.8 931.9h11.0v11.0h-11.0zM730.1 916.4h11.0v11.0h-11.0zM731.4 940.8h11.0v11.0h-11.0zM792.0 744.2h11.0v11.0h-11.0zM794.3 762.8h11.0v11.0h-11.0zM793.9 780.2h11.0v11.0h-11.0zM764.5 798.6h11.0v11.0h-11.0zM750.8 815.2h11.0v11.0h-11.0zM747.4 823.1h11.0v11.0h-11.0zM789.7 823.1h11.0v11.0h-11.0zM768.0 831.1h11.0v11.0h-11.0zM805.8 827.6h11.0v11.0h-11.0zM810.3 823.1h11.0v11.0h-11.0zM748.5 839.0h11.0v11.0h-11.0zM782.9 839.0h11.0v11.0h-11.0zM760.0 857.5h11.0v11.0h-11.0zM773.7 857.5h11.0v11.0h-11.0zM788.6 857.5h11.0v11.0h-11.0zM746.2 865.2h11.0v11.0h-11.0zM766.8 865.2h11.0v11.0h-11.0zM780.6 865.2h11.0v11.0h-11.0zM762.3 873.3h11.0v11.0h-11.0zM746.2 883.1h11.0v11.0h-11.0zM778.3 883.1h11.0v11.0h-11.0zM785.2 891.1h11.0v11.0h-11.0zM757.7 908.2h11.0v11.0h-11.0zM771.4 908.2h11.0v11.0h-11.0zM784.0 908.2h11.0v11.0h-11.0zM731.4 917.2h11.0v11.0h-11.0zM779.4 916.1h11.0v11.0h-11.0zM739.4 924.0h11.0v11.0h-11.0zM773.7 924.0h11.0v11.0h-11.0zM746.2 932.9h11.0v11.0h-11.0zM734.8 941.9h11.0v11.0h-11.0zM786.3 941.9h11.0v11.0h-11.0zM782.9 947.7h11.0v11.0h-11.0zM955.3 687.4h11.0v11.0h-11.0zM1019.5 687.4h11.0v11.0h-11.0zM1020.0 719.5h11.0v11.0h-11.0zM1020.0 737.1h11.0v11.0h-11.0zM949.7 737.6h11.0v11.0h-11.0zM996.9 730.7h11.0v11.0h-11.0zM998.5 744.2h11.0v11.0h-11.0zM944.7 747.0h11.0v11.0h-11.0zM951.0 752.6h11.0v11.0h-11.0zM941.0 752.6h11.0v11.0h-11.0zM934.7 763.6h11.0v11.0h-11.0zM934.7 771.9h11.0v11.0h-11.0zM997.4 763.6h11.0v11.0h-11.0zM991.1 771.9h11.0v11.0h-11.0zM1018.7 780.2h11.0v11.0h-11.0zM913.4 789.7h11.0v11.0h-11.0zM938.5 789.7h11.0v11.0h-11.0zM954.7 791.3h11.0v11.0h-11.0zM954.7 799.4h11.0v11.0h-11.0zM930.9 799.4h11.0v11.0h-11.0zM1017.5 796.7h11.0v11.0h-11.0zM1004.9 806.0h11.0v11.0h-11.0zM989.9 831.1h11.0v11.0h-11.0zM992.4 839.0h11.0v11.0h-11.0zM1014.9 831.1h11.0v11.0h-11.0zM962.3 849.5h11.0v11.0h-11.0zM984.8 858.0h11.0v11.0h-11.0zM1004.9 849.5h11.0v11.0h-11.0zM957.3 874.1h11.0v11.0h-11.0zM969.8 882.9h11.0v11.0h-11.0zM1011.2 876.0h11.0v11.0h-11.0zM1011.2 881.3h11.0v11.0h-11.0zM984.8 899.0h11.0v11.0h-11.0zM974.8 917.7h11.0v11.0h-11.0zM984.8 917.7h11.0v11.0h-11.0zM982.3 925.0h11.0v11.0h-11.0zM961.0 932.4h11.0v11.0h-11.0zM967.3 932.4h11.0v11.0h-11.0zM963.5 942.4h11.0v11.0h-11.0zM983.6 949.8h11.0v11.0h-11.0zM983.6 957.4h11.0v11.0h-11.0zM962.3 958.8h11.0v11.0h-11.0zM973.5 978.2h11.0v11.0h-11.0zM1024.5 777.5h11.0v11.0h-11.0zM1104.9 797.3h11.0v11.0h-11.0zM1104.9 829.2h11.0v11.0h-11.0zM1104.9 837.9h11.0v11.0h-11.0zM1102.9 857.5h11.0v11.0h-11.0zM1088.8 864.4h11.0v11.0h-11.0zM1100.6 898.5h11.0v11.0h-11.0zM1058.8 915.8h11.0v11.0h-11.0zM1087.2 915.8h11.0v11.0h-11.0zM1093.1 915.8h11.0v11.0h-11.0zM1087.2 923.7h11.0v11.0h-11.0zM1058.8 931.4h11.0v11.0h-11.0zM1068.0 941.1h11.0v11.0h-11.0zM1095.5 941.1h11.0v11.0h-11.0zM1056.9 957.1h11.0v11.0h-11.0zM1065.7 967.1h11.0v11.0h-11.0zM1098.0 967.1h11.0v11.0h-11.0zM1222.1 771.1h11.0v11.0h-11.0zM1250.0 797.3h11.0v11.0h-11.0zM1212.7 803.9h11.0v11.0h-11.0zM1224.5 803.9h11.0v11.0h-11.0zM1220.6 812.6h11.0v11.0h-11.0zM1208.8 822.3h11.0v11.0h-11.0zM1219.6 822.3h11.0v11.0h-11.0zM1240.2 822.3h11.0v11.0h-11.0zM1248.0 829.2h11.0v11.0h-11.0zM1243.1 837.9h11.0v11.0h-11.0zM1224.5 837.9h11.0v11.0h-11.0zM1229.4 847.7h11.0v11.0h-11.0zM1243.1 856.4h11.0v11.0h-11.0zM1224.5 898.5h11.0v11.0h-11.0zM1346.7 814.2h11.0v11.0h-11.0zM664.5 758.1h11.0v11.0h-11.0zM666.5 744.2h11.0v11.0h-11.0zM662.5 752.6h11.0v11.0h-11.0zM674.5 758.1h11.0v11.0h-11.0zM677.5 766.4h11.0v11.0h-11.0zM684.5 744.2h11.0v11.0h-11.0zM686.5 760.9h11.0v11.0h-11.0zM680.5 796.7h11.0v11.0h-11.0zM683.5 807.3h11.0v11.0h-11.0zM706.5 799.4h11.0v11.0h-11.0zM722.5 807.3h11.0v11.0h-11.0zM709.5 812.6h11.0v11.0h-11.0zM721.5 820.5h11.0v11.0h-11.0zM694.5 836.3h11.0v11.0h-11.0zM699.5 841.6h11.0v11.0h-11.0zM632.5 777.5h11.0v11.0h-11.0zM637.5 794.1h11.0v11.0h-11.0zM799.5 831.1h11.0v11.0h-11.0zM812.5 833.7h11.0v11.0h-11.0zM777.5 907.7h11.0v11.0h-11.0zM787.5 902.4h11.0v11.0h-11.0zM992.5 738.7h11.0v11.0h-11.0zM1002.5 736.0h11.0v11.0h-11.0zM1014.5 777.5h11.0v11.0h-11.0zM1022.5 771.9h11.0v11.0h-11.0zM960.5 788.6h11.0v11.0h-11.0zM979.5 910.3h11.0v11.0h-11.0zM987.5 920.8h11.0v11.0h-11.0zM990.5 931.4h11.0v11.0h-11.0z" fill="#ff00ff"/>
<path d="M133.7 638.6 H1388.7 V1118.5" fill="none" stroke="#727272" stroke-width="1.9"/>
<line x1="133.7" y1="1118.5" x2="1388.7" y2="1118.5" stroke="#1a1a1a" stroke-width="1.7"/>
<line x1="133.7" y1="1118.5" x2="133.7" y2="1129.0" stroke="#1a1a1a" stroke-width="1.6"/>
<line x1="178.5" y1="1118.5" x2="178.5" y2="1129.0" stroke="#1a1a1a" stroke-width="1.6"/>
<line x1="223.3" y1="1118.5" x2="223.3" y2="1129.0" stroke="#1a1a1a" stroke-width="1.6"/>
<line x1="268.2" y1="1118.5" x2="268.2" y2="1129.0" stroke="#1a1a1a" stroke-width="1.6"/>
<line x1="313.0" y1="1118.5" x2="313.0" y2="1129.0" stroke="#1a1a1a" stroke-width="1.6"/>
<line x1="357.8" y1="1118.5" x2="357.8" y2="1129.0" stroke="#1a1a1a" stroke-width="1.6"/>
<line x1="402.6" y1="1118.5" x2="402.6" y2="1129.0" stroke="#1a1a1a" stroke-width="1.6"/>
<line x1="447.4" y1="1118.5" x2="447.4" y2="1129.0" stroke="#1a1a1a" stroke-width="1.6"/>
<line x1="492.3" y1="1118.5" x2="492.3" y2="1129.0" stroke="#1a1a1a" stroke-width="1.6"/>
<line x1="537.1" y1="1118.5" x2="537.1" y2="1129.0" stroke="#1a1a1a" stroke-width="1.6"/>
<line x1="581.9" y1="1118.5" x2="581.9" y2="1129.0" stroke="#1a1a1a" stroke-width="1.6"/>
<line x1="626.7" y1="1118.5" x2="626.7" y2="1129.0" stroke="#1a1a1a" stroke-width="1.6"/>
<line x1="671.6" y1="1118.5" x2="671.6" y2="1129.0" stroke="#1a1a1a" stroke-width="1.6"/>
<line x1="716.4" y1="1118.5" x2="716.4" y2="1129.0" stroke="#1a1a1a" stroke-width="1.6"/>
<line x1="761.2" y1="1118.5" x2="761.2" y2="1129.0" stroke="#1a1a1a" stroke-width="1.6"/>
<line x1="806.0" y1="1118.5" x2="806.0" y2="1129.0" stroke="#1a1a1a" stroke-width="1.6"/>
<line x1="850.8" y1="1118.5" x2="850.8" y2="1129.0" stroke="#1a1a1a" stroke-width="1.6"/>
<line x1="895.7" y1="1118.5" x2="895.7" y2="1129.0" stroke="#1a1a1a" stroke-width="1.6"/>
<line x1="940.5" y1="1118.5" x2="940.5" y2="1129.0" stroke="#1a1a1a" stroke-width="1.6"/>
<line x1="985.3" y1="1118.5" x2="985.3" y2="1129.0" stroke="#1a1a1a" stroke-width="1.6"/>
<line x1="1030.1" y1="1118.5" x2="1030.1" y2="1129.0" stroke="#1a1a1a" stroke-width="1.6"/>
<line x1="1075.0" y1="1118.5" x2="1075.0" y2="1129.0" stroke="#1a1a1a" stroke-width="1.6"/>
<line x1="1119.8" y1="1118.5" x2="1119.8" y2="1129.0" stroke="#1a1a1a" stroke-width="1.6"/>
<line x1="1164.6" y1="1118.5" x2="1164.6" y2="1129.0" stroke="#1a1a1a" stroke-width="1.6"/>
<line x1="1209.4" y1="1118.5" x2="1209.4" y2="1129.0" stroke="#1a1a1a" stroke-width="1.6"/>
<line x1="1254.2" y1="1118.5" x2="1254.2" y2="1129.0" stroke="#1a1a1a" stroke-width="1.6"/>
<line x1="1299.1" y1="1118.5" x2="1299.1" y2="1129.0" stroke="#1a1a1a" stroke-width="1.6"/>
<line x1="1343.9" y1="1118.5" x2="1343.9" y2="1129.0" stroke="#1a1a1a" stroke-width="1.6"/>
<line x1="1388.7" y1="1118.5" x2="1388.7" y2="1129.0" stroke="#1a1a1a" stroke-width="1.6"/>
<line x1="133.7" y1="638.6" x2="133.7" y2="1118.5" stroke="#1a1a1a" stroke-width="1.9"/>
<line x1="123.7" y1="1118.5" x2="134" y2="1118.5" stroke="#1a1a1a" stroke-width="1.7"/>
<text transform="translate(111.3,1127.1) scale(0.94,1)" font-size="31.5" font-weight="normal" text-anchor="end">0</text>
<text transform="translate(111.3,1074.9) scale(0.94,1)" font-size="31.5" font-weight="normal" text-anchor="end">2</text>
<text transform="translate(111.3,1022.0) scale(0.94,1)" font-size="31.5" font-weight="normal" text-anchor="end">4</text>
<text transform="translate(111.3,966.5) scale(0.94,1)" font-size="31.5" font-weight="normal" text-anchor="end">6</text>
<text transform="translate(111.3,913.9) scale(0.94,1)" font-size="31.5" font-weight="normal" text-anchor="end">8</text>
<text transform="translate(111.3,861.0) scale(0.94,1)" font-size="31.5" font-weight="normal" text-anchor="end">10</text>
<text transform="translate(111.3,808.2) scale(0.94,1)" font-size="31.5" font-weight="normal" text-anchor="end">12</text>
<text transform="translate(111.3,752.8) scale(0.94,1)" font-size="31.5" font-weight="normal" text-anchor="end">14</text>
<text transform="translate(111.3,699.6) scale(0.94,1)" font-size="31.5" font-weight="normal" text-anchor="end">16</text>
<text transform="translate(111.3,647.2) scale(0.94,1)" font-size="31.5" font-weight="normal" text-anchor="end">18</text>
<text transform="translate(134.7,1171.3) scale(1.02,1)" font-size="30" font-weight="normal" text-anchor="middle">1</text>
<text transform="translate(179.5,1171.3) scale(1.02,1)" font-size="30" font-weight="normal" text-anchor="middle">2</text>
<text transform="translate(224.3,1171.3) scale(1.02,1)" font-size="30" font-weight="normal" text-anchor="middle">3</text>
<text transform="translate(269.2,1171.3) scale(1.02,1)" font-size="30" font-weight="normal" text-anchor="middle">4</text>
<text transform="translate(314.0,1171.3) scale(1.02,1)" font-size="30" font-weight="normal" text-anchor="middle">5</text>
<text transform="translate(358.8,1171.3) scale(1.02,1)" font-size="30" font-weight="normal" text-anchor="middle">6</text>
<text transform="translate(403.6,1171.3) scale(1.02,1)" font-size="30" font-weight="normal" text-anchor="middle">7</text>
<text transform="translate(448.4,1171.3) scale(1.02,1)" font-size="30" font-weight="normal" text-anchor="middle">8</text>
<text transform="translate(493.3,1171.3) scale(1.02,1)" font-size="30" font-weight="normal" text-anchor="middle">9</text>
<text transform="translate(538.1,1171.3) scale(1.02,1)" font-size="30" font-weight="normal" text-anchor="middle">10</text>
<text transform="translate(582.9,1171.3) scale(1.02,1)" font-size="30" font-weight="normal" text-anchor="middle">11</text>
<text transform="translate(627.7,1171.3) scale(1.02,1)" font-size="30" font-weight="normal" text-anchor="middle">12</text>
<text transform="translate(672.6,1171.3) scale(1.02,1)" font-size="30" font-weight="normal" text-anchor="middle">13</text>
<text transform="translate(717.4,1171.3) scale(1.02,1)" font-size="30" font-weight="normal" text-anchor="middle">14</text>
<text transform="translate(762.2,1171.3) scale(1.02,1)" font-size="30" font-weight="normal" text-anchor="middle">15</text>
<text transform="translate(807.0,1171.3) scale(1.02,1)" font-size="30" font-weight="normal" text-anchor="middle">16</text>
<text transform="translate(851.8,1171.3) scale(1.02,1)" font-size="30" font-weight="normal" text-anchor="middle">17</text>
<text transform="translate(896.7,1171.3) scale(1.02,1)" font-size="30" font-weight="normal" text-anchor="middle">18</text>
<text transform="translate(941.5,1171.3) scale(1.02,1)" font-size="30" font-weight="normal" text-anchor="middle">19</text>
<text transform="translate(986.3,1171.3) scale(1.02,1)" font-size="30" font-weight="normal" text-anchor="middle">20</text>
<text transform="translate(1031.1,1171.3) scale(1.02,1)" font-size="30" font-weight="normal" text-anchor="middle">21</text>
<text transform="translate(1076.0,1171.3) scale(1.02,1)" font-size="30" font-weight="normal" text-anchor="middle">22</text>
<text transform="translate(1120.8,1171.3) scale(1.02,1)" font-size="30" font-weight="normal" text-anchor="middle">23</text>
<text transform="translate(1165.6,1171.3) scale(1.02,1)" font-size="30" font-weight="normal" text-anchor="middle">24</text>
<text transform="translate(1210.4,1171.3) scale(1.02,1)" font-size="30" font-weight="normal" text-anchor="middle">25</text>
<text transform="translate(1255.2,1171.3) scale(1.02,1)" font-size="30" font-weight="normal" text-anchor="middle">26</text>
<text transform="translate(1300.1,1171.3) scale(1.02,1)" font-size="30" font-weight="normal" text-anchor="middle">27</text>
<text transform="translate(1344.9,1171.3) scale(1.02,1)" font-size="30" font-weight="normal" text-anchor="middle">28</text>
<text transform="translate(762.6,1204.2) scale(0.96,1)" font-size="34.8" font-weight="bold" text-anchor="middle">days in February 2009</text>
<text transform="translate(37.6,877.6) rotate(-90) scale(0.94,1)" font-size="35" font-weight="bold" text-anchor="middle">wind speed (m/s)</text>
<rect x="1121.4" y="1256.1" width="88.9" height="483.2" fill="#c4c4c4"/>
<line x1="125.0" y1="1674.9" x2="1389.3" y2="1674.9" stroke="#6a6a6a" stroke-width="1.6"/>
<line x1="125.0" y1="1610.6" x2="1389.3" y2="1610.6" stroke="#6a6a6a" stroke-width="1.6"/>
<line x1="125.0" y1="1546.2" x2="1389.3" y2="1546.2" stroke="#6a6a6a" stroke-width="1.6"/>
<line x1="125.0" y1="1481.9" x2="1389.3" y2="1481.9" stroke="#6a6a6a" stroke-width="1.6"/>
<line x1="125.0" y1="1417.5" x2="1389.3" y2="1417.5" stroke="#6a6a6a" stroke-width="1.6"/>
<line x1="125.0" y1="1353.1" x2="1389.3" y2="1353.1" stroke="#6a6a6a" stroke-width="1.6"/>
<line x1="125.0" y1="1288.8" x2="1389.3" y2="1288.8" stroke="#6a6a6a" stroke-width="1.6"/>
<path d="M520.0 1248.6l8.0 8.0l-8.0 8.0l-8.0 -8.0zM594.3 1248.6l8.0 8.0l-8.0 8.0l-8.0 -8.0zM608.6 1248.6l8.0 8.0l-8.0 8.0l-8.0 -8.0zM742.1 1248.6l8.0 8.0l-8.0 8.0l-8.0 -8.0zM1058.0 1248.6l8.0 8.0l-8.0 8.0l-8.0 -8.0zM1063.5 1248.6l8.0 8.0l-8.0 8.0l-8.0 -8.0zM1069.1 1248.6l8.0 8.0l-8.0 8.0l-8.0 -8.0zM1138.7 1248.6l8.0 8.0l-8.0 8.0l-8.0 -8.0zM1201.2 1248.6l8.0 8.0l-8.0 8.0l-8.0 -8.0zM1362.0 1248.6l8.0 8.0l-8.0 8.0l-8.0 -8.0zM133.3 1280.8l8.0 8.0l-8.0 8.0l-8.0 -8.0zM301.2 1280.8l8.0 8.0l-8.0 8.0l-8.0 -8.0zM519.2 1280.8l8.0 8.0l-8.0 8.0l-8.0 -8.0zM591.5 1280.8l8.0 8.0l-8.0 8.0l-8.0 -8.0zM595.6 1280.8l8.0 8.0l-8.0 8.0l-8.0 -8.0zM599.8 1280.8l8.0 8.0l-8.0 8.0l-8.0 -8.0zM603.9 1280.8l8.0 8.0l-8.0 8.0l-8.0 -8.0zM608.0 1280.8l8.0 8.0l-8.0 8.0l-8.0 -8.0zM617.7 1280.8l8.0 8.0l-8.0 8.0l-8.0 -8.0zM968.6 1280.8l8.0 8.0l-8.0 8.0l-8.0 -8.0zM973.1 1280.8l8.0 8.0l-8.0 8.0l-8.0 -8.0zM977.5 1280.8l8.0 8.0l-8.0 8.0l-8.0 -8.0zM982.0 1280.8l8.0 8.0l-8.0 8.0l-8.0 -8.0zM986.5 1280.8l8.0 8.0l-8.0 8.0l-8.0 -8.0zM1056.7 1280.8l8.0 8.0l-8.0 8.0l-8.0 -8.0zM1060.8 1280.8l8.0 8.0l-8.0 8.0l-8.0 -8.0zM1140.7 1280.8l8.0 8.0l-8.0 8.0l-8.0 -8.0zM1282.4 1280.8l8.0 8.0l-8.0 8.0l-8.0 -8.0zM1286.6 1280.8l8.0 8.0l-8.0 8.0l-8.0 -8.0zM1290.7 1280.8l8.0 8.0l-8.0 8.0l-8.0 -8.0zM1333.4 1280.8l8.0 8.0l-8.0 8.0l-8.0 -8.0zM1338.6 1280.8l8.0 8.0l-8.0 8.0l-8.0 -8.0zM1363.4 1280.8l8.0 8.0l-8.0 8.0l-8.0 -8.0zM1368.4 1280.8l8.0 8.0l-8.0 8.0l-8.0 -8.0zM1373.5 1280.8l8.0 8.0l-8.0 8.0l-8.0 -8.0zM1378.5 1280.8l8.0 8.0l-8.0 8.0l-8.0 -8.0zM301.2 1313.0l8.0 8.0l-8.0 8.0l-8.0 -8.0zM450.3 1313.0l8.0 8.0l-8.0 8.0l-8.0 -8.0zM519.2 1313.0l8.0 8.0l-8.0 8.0l-8.0 -8.0zM591.5 1313.0l8.0 8.0l-8.0 8.0l-8.0 -8.0zM620.4 1313.0l8.0 8.0l-8.0 8.0l-8.0 -8.0zM981.0 1313.0l8.0 8.0l-8.0 8.0l-8.0 -8.0zM984.5 1313.0l8.0 8.0l-8.0 8.0l-8.0 -8.0zM987.9 1313.0l8.0 8.0l-8.0 8.0l-8.0 -8.0zM1020.1 1313.0l8.0 8.0l-8.0 8.0l-8.0 -8.0zM1143.4 1313.0l8.0 8.0l-8.0 8.0l-8.0 -8.0zM1148.2 1313.0l8.0 8.0l-8.0 8.0l-8.0 -8.0zM1153.1 1313.0l8.0 8.0l-8.0 8.0l-8.0 -8.0zM1278.3 1313.0l8.0 8.0l-8.0 8.0l-8.0 -8.0zM1283.8 1313.0l8.0 8.0l-8.0 8.0l-8.0 -8.0zM1289.3 1313.0l8.0 8.0l-8.0 8.0l-8.0 -8.0zM1325.1 1313.0l8.0 8.0l-8.0 8.0l-8.0 -8.0zM1331.7 1313.0l8.0 8.0l-8.0 8.0l-8.0 -8.0zM1363.4 1313.0l8.0 8.0l-8.0 8.0l-8.0 -8.0zM1367.9 1313.0l8.0 8.0l-8.0 8.0l-8.0 -8.0zM1372.3 1313.0l8.0 8.0l-8.0 8.0l-8.0 -8.0zM1376.8 1313.0l8.0 8.0l-8.0 8.0l-8.0 -8.0zM1381.3 1313.0l8.0 8.0l-8.0 8.0l-8.0 -8.0zM590.1 1345.1l8.0 8.0l-8.0 8.0l-8.0 -8.0zM599.2 1345.1l8.0 8.0l-8.0 8.0l-8.0 -8.0zM831.0 1345.1l8.0 8.0l-8.0 8.0l-8.0 -8.0zM835.9 1345.1l8.0 8.0l-8.0 8.0l-8.0 -8.0zM840.7 1345.1l8.0 8.0l-8.0 8.0l-8.0 -8.0zM900.3 1345.1l8.0 8.0l-8.0 8.0l-8.0 -8.0zM1144.8 1345.1l8.0 8.0l-8.0 8.0l-8.0 -8.0zM1148.9 1345.1l8.0 8.0l-8.0 8.0l-8.0 -8.0zM1199.2 1345.1l8.0 8.0l-8.0 8.0l-8.0 -8.0zM1274.1 1345.1l8.0 8.0l-8.0 8.0l-8.0 -8.0zM1278.2 1345.1l8.0 8.0l-8.0 8.0l-8.0 -8.0zM1282.4 1345.1l8.0 8.0l-8.0 8.0l-8.0 -8.0zM1286.5 1345.1l8.0 8.0l-8.0 8.0l-8.0 -8.0zM1323.7 1345.1l8.0 8.0l-8.0 8.0l-8.0 -8.0zM1329.1 1345.1l8.0 8.0l-8.0 8.0l-8.0 -8.0zM1334.4 1345.1l8.0 8.0l-8.0 8.0l-8.0 -8.0zM1366.1 1345.1l8.0 8.0l-8.0 8.0l-8.0 -8.0zM1371.6 1345.1l8.0 8.0l-8.0 8.0l-8.0 -8.0zM1377.1 1345.1l8.0 8.0l-8.0 8.0l-8.0 -8.0zM299.2 1377.3l8.0 8.0l-8.0 8.0l-8.0 -8.0zM450.3 1377.3l8.0 8.0l-8.0 8.0l-8.0 -8.0zM615.8 1377.3l8.0 8.0l-8.0 8.0l-8.0 -8.0zM833.8 1377.3l8.0 8.0l-8.0 8.0l-8.0 -8.0zM839.3 1377.3l8.0 8.0l-8.0 8.0l-8.0 -8.0zM1191.5 1377.3l8.0 8.0l-8.0 8.0l-8.0 -8.0zM1195.7 1377.3l8.0 8.0l-8.0 8.0l-8.0 -8.0zM1199.8 1377.3l8.0 8.0l-8.0 8.0l-8.0 -8.0zM1323.7 1377.3l8.0 8.0l-8.0 8.0l-8.0 -8.0zM283.3 1409.5l8.0 8.0l-8.0 8.0l-8.0 -8.0zM476.0 1409.5l8.0 8.0l-8.0 8.0l-8.0 -8.0zM480.0 1409.5l8.0 8.0l-8.0 8.0l-8.0 -8.0zM589.3 1409.5l8.0 8.0l-8.0 8.0l-8.0 -8.0zM1185.0 1409.5l8.0 8.0l-8.0 8.0l-8.0 -8.0zM1189.0 1409.5l8.0 8.0l-8.0 8.0l-8.0 -8.0zM1193.0 1409.5l8.0 8.0l-8.0 8.0l-8.0 -8.0zM1197.0 1409.5l8.0 8.0l-8.0 8.0l-8.0 -8.0zM299.2 1441.7l8.0 8.0l-8.0 8.0l-8.0 -8.0zM455.3 1441.7l8.0 8.0l-8.0 8.0l-8.0 -8.0zM470.4 1441.7l8.0 8.0l-8.0 8.0l-8.0 -8.0zM474.5 1441.7l8.0 8.0l-8.0 8.0l-8.0 -8.0zM478.7 1441.7l8.0 8.0l-8.0 8.0l-8.0 -8.0zM482.8 1441.7l8.0 8.0l-8.0 8.0l-8.0 -8.0zM588.2 1441.7l8.0 8.0l-8.0 8.0l-8.0 -8.0zM1186.0 1441.7l8.0 8.0l-8.0 8.0l-8.0 -8.0zM1190.2 1441.7l8.0 8.0l-8.0 8.0l-8.0 -8.0zM1194.3 1441.7l8.0 8.0l-8.0 8.0l-8.0 -8.0zM1322.9 1441.7l8.0 8.0l-8.0 8.0l-8.0 -8.0zM280.5 1473.9l8.0 8.0l-8.0 8.0l-8.0 -8.0zM285.3 1473.9l8.0 8.0l-8.0 8.0l-8.0 -8.0zM290.1 1473.9l8.0 8.0l-8.0 8.0l-8.0 -8.0zM295.0 1473.9l8.0 8.0l-8.0 8.0l-8.0 -8.0zM299.8 1473.9l8.0 8.0l-8.0 8.0l-8.0 -8.0zM457.5 1473.9l8.0 8.0l-8.0 8.0l-8.0 -8.0zM462.3 1473.9l8.0 8.0l-8.0 8.0l-8.0 -8.0zM467.0 1473.9l8.0 8.0l-8.0 8.0l-8.0 -8.0zM471.8 1473.9l8.0 8.0l-8.0 8.0l-8.0 -8.0zM1185.0 1473.9l8.0 8.0l-8.0 8.0l-8.0 -8.0zM1320.7 1473.9l8.0 8.0l-8.0 8.0l-8.0 -8.0zM276.5 1506.0l8.0 8.0l-8.0 8.0l-8.0 -8.0zM287.4 1506.0l8.0 8.0l-8.0 8.0l-8.0 -8.0zM292.2 1506.0l8.0 8.0l-8.0 8.0l-8.0 -8.0zM297.0 1506.0l8.0 8.0l-8.0 8.0l-8.0 -8.0zM373.6 1506.0l8.0 8.0l-8.0 8.0l-8.0 -8.0zM421.0 1506.0l8.0 8.0l-8.0 8.0l-8.0 -8.0zM425.1 1506.0l8.0 8.0l-8.0 8.0l-8.0 -8.0zM447.6 1506.0l8.0 8.0l-8.0 8.0l-8.0 -8.0zM463.6 1506.0l8.0 8.0l-8.0 8.0l-8.0 -8.0zM469.0 1506.0l8.0 8.0l-8.0 8.0l-8.0 -8.0zM149.2 1538.2l8.0 8.0l-8.0 8.0l-8.0 -8.0zM204.9 1538.2l8.0 8.0l-8.0 8.0l-8.0 -8.0zM223.3 1538.2l8.0 8.0l-8.0 8.0l-8.0 -8.0zM239.3 1538.2l8.0 8.0l-8.0 8.0l-8.0 -8.0zM244.0 1538.2l8.0 8.0l-8.0 8.0l-8.0 -8.0zM248.6 1538.2l8.0 8.0l-8.0 8.0l-8.0 -8.0zM253.2 1538.2l8.0 8.0l-8.0 8.0l-8.0 -8.0zM257.9 1538.2l8.0 8.0l-8.0 8.0l-8.0 -8.0zM262.6 1538.2l8.0 8.0l-8.0 8.0l-8.0 -8.0zM267.2 1538.2l8.0 8.0l-8.0 8.0l-8.0 -8.0zM271.9 1538.2l8.0 8.0l-8.0 8.0l-8.0 -8.0zM276.5 1538.2l8.0 8.0l-8.0 8.0l-8.0 -8.0zM293.7 1538.2l8.0 8.0l-8.0 8.0l-8.0 -8.0zM337.0 1538.2l8.0 8.0l-8.0 8.0l-8.0 -8.0zM341.1 1538.2l8.0 8.0l-8.0 8.0l-8.0 -8.0zM345.2 1538.2l8.0 8.0l-8.0 8.0l-8.0 -8.0zM368.6 1538.2l8.0 8.0l-8.0 8.0l-8.0 -8.0zM372.1 1538.2l8.0 8.0l-8.0 8.0l-8.0 -8.0zM375.5 1538.2l8.0 8.0l-8.0 8.0l-8.0 -8.0zM416.8 1538.2l8.0 8.0l-8.0 8.0l-8.0 -8.0zM421.6 1538.2l8.0 8.0l-8.0 8.0l-8.0 -8.0zM426.4 1538.2l8.0 8.0l-8.0 8.0l-8.0 -8.0zM431.2 1538.2l8.0 8.0l-8.0 8.0l-8.0 -8.0zM436.1 1538.2l8.0 8.0l-8.0 8.0l-8.0 -8.0zM440.9 1538.2l8.0 8.0l-8.0 8.0l-8.0 -8.0zM445.7 1538.2l8.0 8.0l-8.0 8.0l-8.0 -8.0zM473.2 1538.2l8.0 8.0l-8.0 8.0l-8.0 -8.0zM498.8 1538.2l8.0 8.0l-8.0 8.0l-8.0 -8.0zM558.6 1538.2l8.0 8.0l-8.0 8.0l-8.0 -8.0zM562.0 1538.2l8.0 8.0l-8.0 8.0l-8.0 -8.0zM565.5 1538.2l8.0 8.0l-8.0 8.0l-8.0 -8.0zM151.2 1570.4l8.0 8.0l-8.0 8.0l-8.0 -8.0zM160.3 1570.4l8.0 8.0l-8.0 8.0l-8.0 -8.0zM163.6 1570.4l8.0 8.0l-8.0 8.0l-8.0 -8.0zM187.8 1570.4l8.0 8.0l-8.0 8.0l-8.0 -8.0zM198.8 1570.4l8.0 8.0l-8.0 8.0l-8.0 -8.0zM203.1 1570.4l8.0 8.0l-8.0 8.0l-8.0 -8.0zM207.5 1570.4l8.0 8.0l-8.0 8.0l-8.0 -8.0zM211.8 1570.4l8.0 8.0l-8.0 8.0l-8.0 -8.0zM216.2 1570.4l8.0 8.0l-8.0 8.0l-8.0 -8.0zM220.5 1570.4l8.0 8.0l-8.0 8.0l-8.0 -8.0zM224.9 1570.4l8.0 8.0l-8.0 8.0l-8.0 -8.0zM229.2 1570.4l8.0 8.0l-8.0 8.0l-8.0 -8.0zM233.6 1570.4l8.0 8.0l-8.0 8.0l-8.0 -8.0zM237.9 1570.4l8.0 8.0l-8.0 8.0l-8.0 -8.0zM260.0 1570.4l8.0 8.0l-8.0 8.0l-8.0 -8.0zM273.7 1570.4l8.0 8.0l-8.0 8.0l-8.0 -8.0zM320.4 1570.4l8.0 8.0l-8.0 8.0l-8.0 -8.0zM324.8 1570.4l8.0 8.0l-8.0 8.0l-8.0 -8.0zM329.3 1570.4l8.0 8.0l-8.0 8.0l-8.0 -8.0zM333.7 1570.4l8.0 8.0l-8.0 8.0l-8.0 -8.0zM338.2 1570.4l8.0 8.0l-8.0 8.0l-8.0 -8.0zM342.6 1570.4l8.0 8.0l-8.0 8.0l-8.0 -8.0zM347.1 1570.4l8.0 8.0l-8.0 8.0l-8.0 -8.0zM351.5 1570.4l8.0 8.0l-8.0 8.0l-8.0 -8.0zM356.0 1570.4l8.0 8.0l-8.0 8.0l-8.0 -8.0zM360.4 1570.4l8.0 8.0l-8.0 8.0l-8.0 -8.0zM364.9 1570.4l8.0 8.0l-8.0 8.0l-8.0 -8.0zM369.3 1570.4l8.0 8.0l-8.0 8.0l-8.0 -8.0zM373.7 1570.4l8.0 8.0l-8.0 8.0l-8.0 -8.0zM378.2 1570.4l8.0 8.0l-8.0 8.0l-8.0 -8.0zM382.6 1570.4l8.0 8.0l-8.0 8.0l-8.0 -8.0zM387.1 1570.4l8.0 8.0l-8.0 8.0l-8.0 -8.0zM391.5 1570.4l8.0 8.0l-8.0 8.0l-8.0 -8.0zM396.0 1570.4l8.0 8.0l-8.0 8.0l-8.0 -8.0zM400.4 1570.4l8.0 8.0l-8.0 8.0l-8.0 -8.0zM404.9 1570.4l8.0 8.0l-8.0 8.0l-8.0 -8.0zM409.3 1570.4l8.0 8.0l-8.0 8.0l-8.0 -8.0zM413.8 1570.4l8.0 8.0l-8.0 8.0l-8.0 -8.0zM418.2 1570.4l8.0 8.0l-8.0 8.0l-8.0 -8.0zM425.0 1570.4l8.0 8.0l-8.0 8.0l-8.0 -8.0zM429.1 1570.4l8.0 8.0l-8.0 8.0l-8.0 -8.0zM433.2 1570.4l8.0 8.0l-8.0 8.0l-8.0 -8.0zM437.4 1570.4l8.0 8.0l-8.0 8.0l-8.0 -8.0zM441.5 1570.4l8.0 8.0l-8.0 8.0l-8.0 -8.0zM451.2 1570.4l8.0 8.0l-8.0 8.0l-8.0 -8.0zM464.1 1570.4l8.0 8.0l-8.0 8.0l-8.0 -8.0zM557.2 1570.4l8.0 8.0l-8.0 8.0l-8.0 -8.0zM561.6 1570.4l8.0 8.0l-8.0 8.0l-8.0 -8.0zM566.0 1570.4l8.0 8.0l-8.0 8.0l-8.0 -8.0zM570.4 1570.4l8.0 8.0l-8.0 8.0l-8.0 -8.0zM574.8 1570.4l8.0 8.0l-8.0 8.0l-8.0 -8.0zM579.2 1570.4l8.0 8.0l-8.0 8.0l-8.0 -8.0zM872.9 1570.4l8.0 8.0l-8.0 8.0l-8.0 -8.0zM1297.6 1570.4l8.0 8.0l-8.0 8.0l-8.0 -8.0zM1301.7 1570.4l8.0 8.0l-8.0 8.0l-8.0 -8.0zM1305.9 1570.4l8.0 8.0l-8.0 8.0l-8.0 -8.0zM1310.0 1570.4l8.0 8.0l-8.0 8.0l-8.0 -8.0zM133.3 1602.6l8.0 8.0l-8.0 8.0l-8.0 -8.0zM138.2 1602.6l8.0 8.0l-8.0 8.0l-8.0 -8.0zM143.2 1602.6l8.0 8.0l-8.0 8.0l-8.0 -8.0zM148.1 1602.6l8.0 8.0l-8.0 8.0l-8.0 -8.0zM153.1 1602.6l8.0 8.0l-8.0 8.0l-8.0 -8.0zM158.0 1602.6l8.0 8.0l-8.0 8.0l-8.0 -8.0zM166.3 1602.6l8.0 8.0l-8.0 8.0l-8.0 -8.0zM170.6 1602.6l8.0 8.0l-8.0 8.0l-8.0 -8.0zM175.0 1602.6l8.0 8.0l-8.0 8.0l-8.0 -8.0zM179.3 1602.6l8.0 8.0l-8.0 8.0l-8.0 -8.0zM183.6 1602.6l8.0 8.0l-8.0 8.0l-8.0 -8.0zM187.9 1602.6l8.0 8.0l-8.0 8.0l-8.0 -8.0zM192.3 1602.6l8.0 8.0l-8.0 8.0l-8.0 -8.0zM196.6 1602.6l8.0 8.0l-8.0 8.0l-8.0 -8.0zM303.9 1602.6l8.0 8.0l-8.0 8.0l-8.0 -8.0zM308.3 1602.6l8.0 8.0l-8.0 8.0l-8.0 -8.0zM312.6 1602.6l8.0 8.0l-8.0 8.0l-8.0 -8.0zM317.0 1602.6l8.0 8.0l-8.0 8.0l-8.0 -8.0zM321.4 1602.6l8.0 8.0l-8.0 8.0l-8.0 -8.0zM325.7 1602.6l8.0 8.0l-8.0 8.0l-8.0 -8.0zM330.1 1602.6l8.0 8.0l-8.0 8.0l-8.0 -8.0zM346.6 1602.6l8.0 8.0l-8.0 8.0l-8.0 -8.0zM351.1 1602.6l8.0 8.0l-8.0 8.0l-8.0 -8.0zM355.7 1602.6l8.0 8.0l-8.0 8.0l-8.0 -8.0zM360.2 1602.6l8.0 8.0l-8.0 8.0l-8.0 -8.0zM364.7 1602.6l8.0 8.0l-8.0 8.0l-8.0 -8.0zM369.2 1602.6l8.0 8.0l-8.0 8.0l-8.0 -8.0zM373.8 1602.6l8.0 8.0l-8.0 8.0l-8.0 -8.0zM378.3 1602.6l8.0 8.0l-8.0 8.0l-8.0 -8.0zM382.8 1602.6l8.0 8.0l-8.0 8.0l-8.0 -8.0zM387.4 1602.6l8.0 8.0l-8.0 8.0l-8.0 -8.0zM391.9 1602.6l8.0 8.0l-8.0 8.0l-8.0 -8.0zM396.4 1602.6l8.0 8.0l-8.0 8.0l-8.0 -8.0zM400.9 1602.6l8.0 8.0l-8.0 8.0l-8.0 -8.0zM405.5 1602.6l8.0 8.0l-8.0 8.0l-8.0 -8.0zM410.0 1602.6l8.0 8.0l-8.0 8.0l-8.0 -8.0zM452.5 1602.6l8.0 8.0l-8.0 8.0l-8.0 -8.0zM458.1 1602.6l8.0 8.0l-8.0 8.0l-8.0 -8.0zM463.6 1602.6l8.0 8.0l-8.0 8.0l-8.0 -8.0zM484.2 1602.6l8.0 8.0l-8.0 8.0l-8.0 -8.0zM488.3 1602.6l8.0 8.0l-8.0 8.0l-8.0 -8.0zM492.4 1602.6l8.0 8.0l-8.0 8.0l-8.0 -8.0zM496.6 1602.6l8.0 8.0l-8.0 8.0l-8.0 -8.0zM500.7 1602.6l8.0 8.0l-8.0 8.0l-8.0 -8.0zM552.2 1602.6l8.0 8.0l-8.0 8.0l-8.0 -8.0zM568.2 1602.6l8.0 8.0l-8.0 8.0l-8.0 -8.0zM572.3 1602.6l8.0 8.0l-8.0 8.0l-8.0 -8.0zM576.4 1602.6l8.0 8.0l-8.0 8.0l-8.0 -8.0zM580.5 1602.6l8.0 8.0l-8.0 8.0l-8.0 -8.0zM584.6 1602.6l8.0 8.0l-8.0 8.0l-8.0 -8.0zM781.5 1602.6l8.0 8.0l-8.0 8.0l-8.0 -8.0zM842.0 1602.6l8.0 8.0l-8.0 8.0l-8.0 -8.0zM860.0 1602.6l8.0 8.0l-8.0 8.0l-8.0 -8.0zM864.4 1602.6l8.0 8.0l-8.0 8.0l-8.0 -8.0zM868.9 1602.6l8.0 8.0l-8.0 8.0l-8.0 -8.0zM873.3 1602.6l8.0 8.0l-8.0 8.0l-8.0 -8.0zM877.8 1602.6l8.0 8.0l-8.0 8.0l-8.0 -8.0zM882.2 1602.6l8.0 8.0l-8.0 8.0l-8.0 -8.0zM886.6 1602.6l8.0 8.0l-8.0 8.0l-8.0 -8.0zM891.1 1602.6l8.0 8.0l-8.0 8.0l-8.0 -8.0zM895.5 1602.6l8.0 8.0l-8.0 8.0l-8.0 -8.0zM899.9 1602.6l8.0 8.0l-8.0 8.0l-8.0 -8.0zM904.4 1602.6l8.0 8.0l-8.0 8.0l-8.0 -8.0zM908.8 1602.6l8.0 8.0l-8.0 8.0l-8.0 -8.0zM913.3 1602.6l8.0 8.0l-8.0 8.0l-8.0 -8.0zM917.7 1602.6l8.0 8.0l-8.0 8.0l-8.0 -8.0zM994.2 1602.6l8.0 8.0l-8.0 8.0l-8.0 -8.0zM1098.0 1602.6l8.0 8.0l-8.0 8.0l-8.0 -8.0zM1172.3 1602.6l8.0 8.0l-8.0 8.0l-8.0 -8.0zM1176.4 1602.6l8.0 8.0l-8.0 8.0l-8.0 -8.0zM1180.5 1602.6l8.0 8.0l-8.0 8.0l-8.0 -8.0zM1184.6 1602.6l8.0 8.0l-8.0 8.0l-8.0 -8.0zM1301.7 1602.6l8.0 8.0l-8.0 8.0l-8.0 -8.0zM1306.7 1602.6l8.0 8.0l-8.0 8.0l-8.0 -8.0zM1311.8 1602.6l8.0 8.0l-8.0 8.0l-8.0 -8.0zM1316.8 1602.6l8.0 8.0l-8.0 8.0l-8.0 -8.0zM1382.6 1602.6l8.0 8.0l-8.0 8.0l-8.0 -8.0zM1386.0 1602.6l8.0 8.0l-8.0 8.0l-8.0 -8.0zM1389.5 1602.6l8.0 8.0l-8.0 8.0l-8.0 -8.0zM135.5 1634.8l8.0 8.0l-8.0 8.0l-8.0 -8.0zM147.6 1634.8l8.0 8.0l-8.0 8.0l-8.0 -8.0zM172.4 1634.8l8.0 8.0l-8.0 8.0l-8.0 -8.0zM454.7 1634.8l8.0 8.0l-8.0 8.0l-8.0 -8.0zM486.1 1634.8l8.0 8.0l-8.0 8.0l-8.0 -8.0zM491.4 1634.8l8.0 8.0l-8.0 8.0l-8.0 -8.0zM496.6 1634.8l8.0 8.0l-8.0 8.0l-8.0 -8.0zM514.5 1634.8l8.0 8.0l-8.0 8.0l-8.0 -8.0zM550.3 1634.8l8.0 8.0l-8.0 8.0l-8.0 -8.0zM582.7 1634.8l8.0 8.0l-8.0 8.0l-8.0 -8.0zM603.9 1634.8l8.0 8.0l-8.0 8.0l-8.0 -8.0zM739.3 1634.8l8.0 8.0l-8.0 8.0l-8.0 -8.0zM782.3 1634.8l8.0 8.0l-8.0 8.0l-8.0 -8.0zM843.4 1634.8l8.0 8.0l-8.0 8.0l-8.0 -8.0zM858.6 1634.8l8.0 8.0l-8.0 8.0l-8.0 -8.0zM863.3 1634.8l8.0 8.0l-8.0 8.0l-8.0 -8.0zM868.1 1634.8l8.0 8.0l-8.0 8.0l-8.0 -8.0zM872.8 1634.8l8.0 8.0l-8.0 8.0l-8.0 -8.0zM877.5 1634.8l8.0 8.0l-8.0 8.0l-8.0 -8.0zM882.3 1634.8l8.0 8.0l-8.0 8.0l-8.0 -8.0zM887.0 1634.8l8.0 8.0l-8.0 8.0l-8.0 -8.0zM891.7 1634.8l8.0 8.0l-8.0 8.0l-8.0 -8.0zM896.5 1634.8l8.0 8.0l-8.0 8.0l-8.0 -8.0zM901.2 1634.8l8.0 8.0l-8.0 8.0l-8.0 -8.0zM1087.8 1634.8l8.0 8.0l-8.0 8.0l-8.0 -8.0zM1092.8 1634.8l8.0 8.0l-8.0 8.0l-8.0 -8.0zM1097.7 1634.8l8.0 8.0l-8.0 8.0l-8.0 -8.0zM1102.6 1634.8l8.0 8.0l-8.0 8.0l-8.0 -8.0zM1107.6 1634.8l8.0 8.0l-8.0 8.0l-8.0 -8.0zM1164.1 1634.8l8.0 8.0l-8.0 8.0l-8.0 -8.0zM1168.9 1634.8l8.0 8.0l-8.0 8.0l-8.0 -8.0zM1173.7 1634.8l8.0 8.0l-8.0 8.0l-8.0 -8.0zM1178.5 1634.8l8.0 8.0l-8.0 8.0l-8.0 -8.0zM1183.3 1634.8l8.0 8.0l-8.0 8.0l-8.0 -8.0zM1303.1 1634.8l8.0 8.0l-8.0 8.0l-8.0 -8.0zM1307.2 1634.8l8.0 8.0l-8.0 8.0l-8.0 -8.0zM1311.3 1634.8l8.0 8.0l-8.0 8.0l-8.0 -8.0zM1315.5 1634.8l8.0 8.0l-8.0 8.0l-8.0 -8.0zM1319.6 1634.8l8.0 8.0l-8.0 8.0l-8.0 -8.0zM1382.6 1634.8l8.0 8.0l-8.0 8.0l-8.0 -8.0zM488.9 1666.9l8.0 8.0l-8.0 8.0l-8.0 -8.0zM493.2 1666.9l8.0 8.0l-8.0 8.0l-8.0 -8.0zM497.5 1666.9l8.0 8.0l-8.0 8.0l-8.0 -8.0zM501.9 1666.9l8.0 8.0l-8.0 8.0l-8.0 -8.0zM506.2 1666.9l8.0 8.0l-8.0 8.0l-8.0 -8.0zM532.4 1666.9l8.0 8.0l-8.0 8.0l-8.0 -8.0zM619.6 1666.9l8.0 8.0l-8.0 8.0l-8.0 -8.0zM630.1 1666.9l8.0 8.0l-8.0 8.0l-8.0 -8.0zM646.6 1666.9l8.0 8.0l-8.0 8.0l-8.0 -8.0zM696.2 1666.9l8.0 8.0l-8.0 8.0l-8.0 -8.0zM705.8 1666.9l8.0 8.0l-8.0 8.0l-8.0 -8.0zM749.8 1666.9l8.0 8.0l-8.0 8.0l-8.0 -8.0zM754.3 1666.9l8.0 8.0l-8.0 8.0l-8.0 -8.0zM758.9 1666.9l8.0 8.0l-8.0 8.0l-8.0 -8.0zM763.4 1666.9l8.0 8.0l-8.0 8.0l-8.0 -8.0zM767.9 1666.9l8.0 8.0l-8.0 8.0l-8.0 -8.0zM772.4 1666.9l8.0 8.0l-8.0 8.0l-8.0 -8.0zM777.0 1666.9l8.0 8.0l-8.0 8.0l-8.0 -8.0zM781.5 1666.9l8.0 8.0l-8.0 8.0l-8.0 -8.0zM858.0 1666.9l8.0 8.0l-8.0 8.0l-8.0 -8.0zM959.0 1666.9l8.0 8.0l-8.0 8.0l-8.0 -8.0zM964.0 1666.9l8.0 8.0l-8.0 8.0l-8.0 -8.0zM969.1 1666.9l8.0 8.0l-8.0 8.0l-8.0 -8.0zM974.1 1666.9l8.0 8.0l-8.0 8.0l-8.0 -8.0zM1014.1 1666.9l8.0 8.0l-8.0 8.0l-8.0 -8.0zM1019.5 1666.9l8.0 8.0l-8.0 8.0l-8.0 -8.0zM1025.0 1666.9l8.0 8.0l-8.0 8.0l-8.0 -8.0zM1093.9 1666.9l8.0 8.0l-8.0 8.0l-8.0 -8.0zM1098.0 1666.9l8.0 8.0l-8.0 8.0l-8.0 -8.0zM1102.1 1666.9l8.0 8.0l-8.0 8.0l-8.0 -8.0zM1106.3 1666.9l8.0 8.0l-8.0 8.0l-8.0 -8.0zM1110.4 1666.9l8.0 8.0l-8.0 8.0l-8.0 -8.0zM1114.5 1666.9l8.0 8.0l-8.0 8.0l-8.0 -8.0zM1160.0 1666.9l8.0 8.0l-8.0 8.0l-8.0 -8.0zM1165.0 1666.9l8.0 8.0l-8.0 8.0l-8.0 -8.0zM1170.0 1666.9l8.0 8.0l-8.0 8.0l-8.0 -8.0zM1175.0 1666.9l8.0 8.0l-8.0 8.0l-8.0 -8.0zM1199.2 1666.9l8.0 8.0l-8.0 8.0l-8.0 -8.0zM1227.3 1666.9l8.0 8.0l-8.0 8.0l-8.0 -8.0zM1232.1 1666.9l8.0 8.0l-8.0 8.0l-8.0 -8.0zM1236.9 1666.9l8.0 8.0l-8.0 8.0l-8.0 -8.0zM1241.8 1666.9l8.0 8.0l-8.0 8.0l-8.0 -8.0zM1246.6 1666.9l8.0 8.0l-8.0 8.0l-8.0 -8.0zM1287.9 1666.9l8.0 8.0l-8.0 8.0l-8.0 -8.0zM1292.1 1666.9l8.0 8.0l-8.0 8.0l-8.0 -8.0zM1296.2 1666.9l8.0 8.0l-8.0 8.0l-8.0 -8.0zM1304.4 1666.9l8.0 8.0l-8.0 8.0l-8.0 -8.0zM1310.0 1666.9l8.0 8.0l-8.0 8.0l-8.0 -8.0zM1315.5 1666.9l8.0 8.0l-8.0 8.0l-8.0 -8.0zM313.6 1699.1l8.0 8.0l-8.0 8.0l-8.0 -8.0zM503.5 1699.1l8.0 8.0l-8.0 8.0l-8.0 -8.0zM508.0 1699.1l8.0 8.0l-8.0 8.0l-8.0 -8.0zM512.6 1699.1l8.0 8.0l-8.0 8.0l-8.0 -8.0zM517.1 1699.1l8.0 8.0l-8.0 8.0l-8.0 -8.0zM521.7 1699.1l8.0 8.0l-8.0 8.0l-8.0 -8.0zM526.2 1699.1l8.0 8.0l-8.0 8.0l-8.0 -8.0zM530.7 1699.1l8.0 8.0l-8.0 8.0l-8.0 -8.0zM535.3 1699.1l8.0 8.0l-8.0 8.0l-8.0 -8.0zM539.8 1699.1l8.0 8.0l-8.0 8.0l-8.0 -8.0zM544.4 1699.1l8.0 8.0l-8.0 8.0l-8.0 -8.0zM548.9 1699.1l8.0 8.0l-8.0 8.0l-8.0 -8.0zM601.2 1699.1l8.0 8.0l-8.0 8.0l-8.0 -8.0zM605.8 1699.1l8.0 8.0l-8.0 8.0l-8.0 -8.0zM610.3 1699.1l8.0 8.0l-8.0 8.0l-8.0 -8.0zM614.9 1699.1l8.0 8.0l-8.0 8.0l-8.0 -8.0zM619.5 1699.1l8.0 8.0l-8.0 8.0l-8.0 -8.0zM624.1 1699.1l8.0 8.0l-8.0 8.0l-8.0 -8.0zM628.6 1699.1l8.0 8.0l-8.0 8.0l-8.0 -8.0zM633.2 1699.1l8.0 8.0l-8.0 8.0l-8.0 -8.0zM637.8 1699.1l8.0 8.0l-8.0 8.0l-8.0 -8.0zM642.3 1699.1l8.0 8.0l-8.0 8.0l-8.0 -8.0zM646.9 1699.1l8.0 8.0l-8.0 8.0l-8.0 -8.0zM651.5 1699.1l8.0 8.0l-8.0 8.0l-8.0 -8.0zM656.1 1699.1l8.0 8.0l-8.0 8.0l-8.0 -8.0zM660.6 1699.1l8.0 8.0l-8.0 8.0l-8.0 -8.0zM665.2 1699.1l8.0 8.0l-8.0 8.0l-8.0 -8.0zM669.8 1699.1l8.0 8.0l-8.0 8.0l-8.0 -8.0zM674.3 1699.1l8.0 8.0l-8.0 8.0l-8.0 -8.0zM678.9 1699.1l8.0 8.0l-8.0 8.0l-8.0 -8.0zM683.5 1699.1l8.0 8.0l-8.0 8.0l-8.0 -8.0zM688.0 1699.1l8.0 8.0l-8.0 8.0l-8.0 -8.0zM692.6 1699.1l8.0 8.0l-8.0 8.0l-8.0 -8.0zM697.2 1699.1l8.0 8.0l-8.0 8.0l-8.0 -8.0zM701.8 1699.1l8.0 8.0l-8.0 8.0l-8.0 -8.0zM706.3 1699.1l8.0 8.0l-8.0 8.0l-8.0 -8.0zM710.9 1699.1l8.0 8.0l-8.0 8.0l-8.0 -8.0zM715.5 1699.1l8.0 8.0l-8.0 8.0l-8.0 -8.0zM720.0 1699.1l8.0 8.0l-8.0 8.0l-8.0 -8.0zM724.6 1699.1l8.0 8.0l-8.0 8.0l-8.0 -8.0zM729.2 1699.1l8.0 8.0l-8.0 8.0l-8.0 -8.0zM733.8 1699.1l8.0 8.0l-8.0 8.0l-8.0 -8.0zM738.3 1699.1l8.0 8.0l-8.0 8.0l-8.0 -8.0zM742.9 1699.1l8.0 8.0l-8.0 8.0l-8.0 -8.0zM751.2 1699.1l8.0 8.0l-8.0 8.0l-8.0 -8.0zM756.0 1699.1l8.0 8.0l-8.0 8.0l-8.0 -8.0zM760.8 1699.1l8.0 8.0l-8.0 8.0l-8.0 -8.0zM765.7 1699.1l8.0 8.0l-8.0 8.0l-8.0 -8.0zM770.5 1699.1l8.0 8.0l-8.0 8.0l-8.0 -8.0zM775.3 1699.1l8.0 8.0l-8.0 8.0l-8.0 -8.0zM780.1 1699.1l8.0 8.0l-8.0 8.0l-8.0 -8.0zM789.7 1699.1l8.0 8.0l-8.0 8.0l-8.0 -8.0zM794.3 1699.1l8.0 8.0l-8.0 8.0l-8.0 -8.0zM798.9 1699.1l8.0 8.0l-8.0 8.0l-8.0 -8.0zM803.5 1699.1l8.0 8.0l-8.0 8.0l-8.0 -8.0zM808.1 1699.1l8.0 8.0l-8.0 8.0l-8.0 -8.0zM812.6 1699.1l8.0 8.0l-8.0 8.0l-8.0 -8.0zM817.2 1699.1l8.0 8.0l-8.0 8.0l-8.0 -8.0zM821.8 1699.1l8.0 8.0l-8.0 8.0l-8.0 -8.0zM826.4 1699.1l8.0 8.0l-8.0 8.0l-8.0 -8.0zM831.0 1699.1l8.0 8.0l-8.0 8.0l-8.0 -8.0zM837.9 1699.1l8.0 8.0l-8.0 8.0l-8.0 -8.0zM842.7 1699.1l8.0 8.0l-8.0 8.0l-8.0 -8.0zM847.5 1699.1l8.0 8.0l-8.0 8.0l-8.0 -8.0zM852.2 1699.1l8.0 8.0l-8.0 8.0l-8.0 -8.0zM857.0 1699.1l8.0 8.0l-8.0 8.0l-8.0 -8.0zM919.1 1699.1l8.0 8.0l-8.0 8.0l-8.0 -8.0zM923.5 1699.1l8.0 8.0l-8.0 8.0l-8.0 -8.0zM927.9 1699.1l8.0 8.0l-8.0 8.0l-8.0 -8.0zM932.3 1699.1l8.0 8.0l-8.0 8.0l-8.0 -8.0zM936.7 1699.1l8.0 8.0l-8.0 8.0l-8.0 -8.0zM941.1 1699.1l8.0 8.0l-8.0 8.0l-8.0 -8.0zM945.5 1699.1l8.0 8.0l-8.0 8.0l-8.0 -8.0zM949.9 1699.1l8.0 8.0l-8.0 8.0l-8.0 -8.0zM954.3 1699.1l8.0 8.0l-8.0 8.0l-8.0 -8.0zM958.7 1699.1l8.0 8.0l-8.0 8.0l-8.0 -8.0zM963.1 1699.1l8.0 8.0l-8.0 8.0l-8.0 -8.0zM996.2 1699.1l8.0 8.0l-8.0 8.0l-8.0 -8.0zM1000.5 1699.1l8.0 8.0l-8.0 8.0l-8.0 -8.0zM1004.9 1699.1l8.0 8.0l-8.0 8.0l-8.0 -8.0zM1009.2 1699.1l8.0 8.0l-8.0 8.0l-8.0 -8.0zM1013.5 1699.1l8.0 8.0l-8.0 8.0l-8.0 -8.0zM1017.9 1699.1l8.0 8.0l-8.0 8.0l-8.0 -8.0zM1022.2 1699.1l8.0 8.0l-8.0 8.0l-8.0 -8.0zM1026.5 1699.1l8.0 8.0l-8.0 8.0l-8.0 -8.0zM1030.8 1699.1l8.0 8.0l-8.0 8.0l-8.0 -8.0zM1035.2 1699.1l8.0 8.0l-8.0 8.0l-8.0 -8.0zM1039.5 1699.1l8.0 8.0l-8.0 8.0l-8.0 -8.0zM1043.8 1699.1l8.0 8.0l-8.0 8.0l-8.0 -8.0zM1048.2 1699.1l8.0 8.0l-8.0 8.0l-8.0 -8.0zM1052.5 1699.1l8.0 8.0l-8.0 8.0l-8.0 -8.0zM1080.1 1699.1l8.0 8.0l-8.0 8.0l-8.0 -8.0zM1084.8 1699.1l8.0 8.0l-8.0 8.0l-8.0 -8.0zM1089.4 1699.1l8.0 8.0l-8.0 8.0l-8.0 -8.0zM1094.1 1699.1l8.0 8.0l-8.0 8.0l-8.0 -8.0zM1098.7 1699.1l8.0 8.0l-8.0 8.0l-8.0 -8.0zM1103.4 1699.1l8.0 8.0l-8.0 8.0l-8.0 -8.0zM1108.1 1699.1l8.0 8.0l-8.0 8.0l-8.0 -8.0zM1112.7 1699.1l8.0 8.0l-8.0 8.0l-8.0 -8.0zM1117.4 1699.1l8.0 8.0l-8.0 8.0l-8.0 -8.0zM1122.1 1699.1l8.0 8.0l-8.0 8.0l-8.0 -8.0zM1126.7 1699.1l8.0 8.0l-8.0 8.0l-8.0 -8.0zM1131.4 1699.1l8.0 8.0l-8.0 8.0l-8.0 -8.0zM1136.0 1699.1l8.0 8.0l-8.0 8.0l-8.0 -8.0zM1140.7 1699.1l8.0 8.0l-8.0 8.0l-8.0 -8.0zM1154.4 1699.1l8.0 8.0l-8.0 8.0l-8.0 -8.0zM1158.7 1699.1l8.0 8.0l-8.0 8.0l-8.0 -8.0zM1163.0 1699.1l8.0 8.0l-8.0 8.0l-8.0 -8.0zM1167.3 1699.1l8.0 8.0l-8.0 8.0l-8.0 -8.0zM1171.7 1699.1l8.0 8.0l-8.0 8.0l-8.0 -8.0zM1176.0 1699.1l8.0 8.0l-8.0 8.0l-8.0 -8.0zM1180.3 1699.1l8.0 8.0l-8.0 8.0l-8.0 -8.0zM1184.6 1699.1l8.0 8.0l-8.0 8.0l-8.0 -8.0zM1202.5 1699.1l8.0 8.0l-8.0 8.0l-8.0 -8.0zM1207.0 1699.1l8.0 8.0l-8.0 8.0l-8.0 -8.0zM1211.5 1699.1l8.0 8.0l-8.0 8.0l-8.0 -8.0zM1215.9 1699.1l8.0 8.0l-8.0 8.0l-8.0 -8.0zM1220.4 1699.1l8.0 8.0l-8.0 8.0l-8.0 -8.0zM1224.9 1699.1l8.0 8.0l-8.0 8.0l-8.0 -8.0zM1229.3 1699.1l8.0 8.0l-8.0 8.0l-8.0 -8.0zM1233.8 1699.1l8.0 8.0l-8.0 8.0l-8.0 -8.0zM1238.3 1699.1l8.0 8.0l-8.0 8.0l-8.0 -8.0zM1242.8 1699.1l8.0 8.0l-8.0 8.0l-8.0 -8.0zM1247.2 1699.1l8.0 8.0l-8.0 8.0l-8.0 -8.0zM1251.7 1699.1l8.0 8.0l-8.0 8.0l-8.0 -8.0zM1256.2 1699.1l8.0 8.0l-8.0 8.0l-8.0 -8.0zM1260.7 1699.1l8.0 8.0l-8.0 8.0l-8.0 -8.0zM1265.1 1699.1l8.0 8.0l-8.0 8.0l-8.0 -8.0zM1269.6 1699.1l8.0 8.0l-8.0 8.0l-8.0 -8.0zM1274.1 1699.1l8.0 8.0l-8.0 8.0l-8.0 -8.0zM1289.3 1699.1l8.0 8.0l-8.0 8.0l-8.0 -8.0zM1293.4 1699.1l8.0 8.0l-8.0 8.0l-8.0 -8.0zM1297.6 1699.1l8.0 8.0l-8.0 8.0l-8.0 -8.0zM1301.7 1699.1l8.0 8.0l-8.0 8.0l-8.0 -8.0zM1305.9 1699.1l8.0 8.0l-8.0 8.0l-8.0 -8.0zM1310.0 1699.1l8.0 8.0l-8.0 8.0l-8.0 -8.0zM1335.0 1699.1l8.0 8.0l-8.0 8.0l-8.0 -8.0zM1339.5 1699.1l8.0 8.0l-8.0 8.0l-8.0 -8.0zM1344.0 1699.1l8.0 8.0l-8.0 8.0l-8.0 -8.0zM1348.5 1699.1l8.0 8.0l-8.0 8.0l-8.0 -8.0zM1353.0 1699.1l8.0 8.0l-8.0 8.0l-8.0 -8.0zM1357.5 1699.1l8.0 8.0l-8.0 8.0l-8.0 -8.0zM1362.0 1699.1l8.0 8.0l-8.0 8.0l-8.0 -8.0zM504.3 1731.3l8.0 8.0l-8.0 8.0l-8.0 -8.0zM513.1 1731.3l8.0 8.0l-8.0 8.0l-8.0 -8.0zM517.2 1731.3l8.0 8.0l-8.0 8.0l-8.0 -8.0zM521.4 1731.3l8.0 8.0l-8.0 8.0l-8.0 -8.0zM525.5 1731.3l8.0 8.0l-8.0 8.0l-8.0 -8.0zM529.7 1731.3l8.0 8.0l-8.0 8.0l-8.0 -8.0zM533.8 1731.3l8.0 8.0l-8.0 8.0l-8.0 -8.0zM594.3 1731.3l8.0 8.0l-8.0 8.0l-8.0 -8.0zM606.7 1731.3l8.0 8.0l-8.0 8.0l-8.0 -8.0zM620.4 1731.3l8.0 8.0l-8.0 8.0l-8.0 -8.0zM654.9 1731.3l8.0 8.0l-8.0 8.0l-8.0 -8.0zM700.3 1731.3l8.0 8.0l-8.0 8.0l-8.0 -8.0zM733.4 1731.3l8.0 8.0l-8.0 8.0l-8.0 -8.0zM738.2 1731.3l8.0 8.0l-8.0 8.0l-8.0 -8.0zM743.0 1731.3l8.0 8.0l-8.0 8.0l-8.0 -8.0zM747.7 1731.3l8.0 8.0l-8.0 8.0l-8.0 -8.0zM752.5 1731.3l8.0 8.0l-8.0 8.0l-8.0 -8.0zM784.2 1731.3l8.0 8.0l-8.0 8.0l-8.0 -8.0zM788.8 1731.3l8.0 8.0l-8.0 8.0l-8.0 -8.0zM793.4 1731.3l8.0 8.0l-8.0 8.0l-8.0 -8.0zM798.0 1731.3l8.0 8.0l-8.0 8.0l-8.0 -8.0zM821.4 1731.3l8.0 8.0l-8.0 8.0l-8.0 -8.0zM825.5 1731.3l8.0 8.0l-8.0 8.0l-8.0 -8.0zM829.7 1731.3l8.0 8.0l-8.0 8.0l-8.0 -8.0zM833.8 1731.3l8.0 8.0l-8.0 8.0l-8.0 -8.0zM916.3 1731.3l8.0 8.0l-8.0 8.0l-8.0 -8.0zM964.5 1731.3l8.0 8.0l-8.0 8.0l-8.0 -8.0zM968.0 1731.3l8.0 8.0l-8.0 8.0l-8.0 -8.0zM971.4 1731.3l8.0 8.0l-8.0 8.0l-8.0 -8.0zM989.3 1731.3l8.0 8.0l-8.0 8.0l-8.0 -8.0zM994.8 1731.3l8.0 8.0l-8.0 8.0l-8.0 -8.0zM1000.3 1731.3l8.0 8.0l-8.0 8.0l-8.0 -8.0zM1053.9 1731.3l8.0 8.0l-8.0 8.0l-8.0 -8.0zM1058.5 1731.3l8.0 8.0l-8.0 8.0l-8.0 -8.0zM1063.1 1731.3l8.0 8.0l-8.0 8.0l-8.0 -8.0zM1067.7 1731.3l8.0 8.0l-8.0 8.0l-8.0 -8.0zM1072.3 1731.3l8.0 8.0l-8.0 8.0l-8.0 -8.0zM1076.8 1731.3l8.0 8.0l-8.0 8.0l-8.0 -8.0zM1081.4 1731.3l8.0 8.0l-8.0 8.0l-8.0 -8.0zM1086.0 1731.3l8.0 8.0l-8.0 8.0l-8.0 -8.0zM1090.6 1731.3l8.0 8.0l-8.0 8.0l-8.0 -8.0zM1095.2 1731.3l8.0 8.0l-8.0 8.0l-8.0 -8.0zM1120.0 1731.3l8.0 8.0l-8.0 8.0l-8.0 -8.0zM1125.5 1731.3l8.0 8.0l-8.0 8.0l-8.0 -8.0zM1131.0 1731.3l8.0 8.0l-8.0 8.0l-8.0 -8.0zM1157.2 1731.3l8.0 8.0l-8.0 8.0l-8.0 -8.0zM1160.7 1731.3l8.0 8.0l-8.0 8.0l-8.0 -8.0zM1164.1 1731.3l8.0 8.0l-8.0 8.0l-8.0 -8.0zM1202.5 1731.3l8.0 8.0l-8.0 8.0l-8.0 -8.0zM1272.8 1731.3l8.0 8.0l-8.0 8.0l-8.0 -8.0zM1292.9 1731.3l8.0 8.0l-8.0 8.0l-8.0 -8.0zM1335.0 1731.3l8.0 8.0l-8.0 8.0l-8.0 -8.0zM1339.8 1731.3l8.0 8.0l-8.0 8.0l-8.0 -8.0zM1344.7 1731.3l8.0 8.0l-8.0 8.0l-8.0 -8.0zM1349.5 1731.3l8.0 8.0l-8.0 8.0l-8.0 -8.0zM1354.4 1731.3l8.0 8.0l-8.0 8.0l-8.0 -8.0zM1359.2 1731.3l8.0 8.0l-8.0 8.0l-8.0 -8.0z" fill="#000080"/>
<path d="M133.5 1256.1 H1389.3 V1739.3" fill="none" stroke="#727272" stroke-width="1.9"/>
<line x1="133.5" y1="1739.3" x2="1389.3" y2="1739.3" stroke="#1a1a1a" stroke-width="1.7"/>
<line x1="133.5" y1="1739.3" x2="133.5" y2="1748.8" stroke="#1a1a1a" stroke-width="1.6"/>
<line x1="178.3" y1="1739.3" x2="178.3" y2="1748.8" stroke="#1a1a1a" stroke-width="1.6"/>
<line x1="223.2" y1="1739.3" x2="223.2" y2="1748.8" stroke="#1a1a1a" stroke-width="1.6"/>
<line x1="268.0" y1="1739.3" x2="268.0" y2="1748.8" stroke="#1a1a1a" stroke-width="1.6"/>
<line x1="312.9" y1="1739.3" x2="312.9" y2="1748.8" stroke="#1a1a1a" stroke-width="1.6"/>
<line x1="357.8" y1="1739.3" x2="357.8" y2="1748.8" stroke="#1a1a1a" stroke-width="1.6"/>
<line x1="402.6" y1="1739.3" x2="402.6" y2="1748.8" stroke="#1a1a1a" stroke-width="1.6"/>
<line x1="447.4" y1="1739.3" x2="447.4" y2="1748.8" stroke="#1a1a1a" stroke-width="1.6"/>
<line x1="492.3" y1="1739.3" x2="492.3" y2="1748.8" stroke="#1a1a1a" stroke-width="1.6"/>
<line x1="537.1" y1="1739.3" x2="537.1" y2="1748.8" stroke="#1a1a1a" stroke-width="1.6"/>
<line x1="582.0" y1="1739.3" x2="582.0" y2="1748.8" stroke="#1a1a1a" stroke-width="1.6"/>
<line x1="626.8" y1="1739.3" x2="626.8" y2="1748.8" stroke="#1a1a1a" stroke-width="1.6"/>
<line x1="671.7" y1="1739.3" x2="671.7" y2="1748.8" stroke="#1a1a1a" stroke-width="1.6"/>
<line x1="716.5" y1="1739.3" x2="716.5" y2="1748.8" stroke="#1a1a1a" stroke-width="1.6"/>
<line x1="761.4" y1="1739.3" x2="761.4" y2="1748.8" stroke="#1a1a1a" stroke-width="1.6"/>
<line x1="806.2" y1="1739.3" x2="806.2" y2="1748.8" stroke="#1a1a1a" stroke-width="1.6"/>
<line x1="851.1" y1="1739.3" x2="851.1" y2="1748.8" stroke="#1a1a1a" stroke-width="1.6"/>
<line x1="895.9" y1="1739.3" x2="895.9" y2="1748.8" stroke="#1a1a1a" stroke-width="1.6"/>
<line x1="940.8" y1="1739.3" x2="940.8" y2="1748.8" stroke="#1a1a1a" stroke-width="1.6"/>
<line x1="985.6" y1="1739.3" x2="985.6" y2="1748.8" stroke="#1a1a1a" stroke-width="1.6"/>
<line x1="1030.5" y1="1739.3" x2="1030.5" y2="1748.8" stroke="#1a1a1a" stroke-width="1.6"/>
<line x1="1075.3" y1="1739.3" x2="1075.3" y2="1748.8" stroke="#1a1a1a" stroke-width="1.6"/>
<line x1="1120.2" y1="1739.3" x2="1120.2" y2="1748.8" stroke="#1a1a1a" stroke-width="1.6"/>
<line x1="1165.0" y1="1739.3" x2="1165.0" y2="1748.8" stroke="#1a1a1a" stroke-width="1.6"/>
<line x1="1209.9" y1="1739.3" x2="1209.9" y2="1748.8" stroke="#1a1a1a" stroke-width="1.6"/>
<line x1="1254.8" y1="1739.3" x2="1254.8" y2="1748.8" stroke="#1a1a1a" stroke-width="1.6"/>
<line x1="1299.6" y1="1739.3" x2="1299.6" y2="1748.8" stroke="#1a1a1a" stroke-width="1.6"/>
<line x1="1344.5" y1="1739.3" x2="1344.5" y2="1748.8" stroke="#1a1a1a" stroke-width="1.6"/>
<line x1="1389.3" y1="1739.3" x2="1389.3" y2="1748.8" stroke="#1a1a1a" stroke-width="1.6"/>
<line x1="133.5" y1="1256.1" x2="133.5" y2="1739.3" stroke="#1a1a1a" stroke-width="1.9"/>
<line x1="125.0" y1="1739.3" x2="134" y2="1739.3" stroke="#1a1a1a" stroke-width="1.7"/>
<text transform="translate(103.4,1750.9)" font-size="36.5" font-weight="normal" text-anchor="middle">N</text>
<text transform="translate(98.2,1686.5)" font-size="36.5" font-weight="normal" text-anchor="middle">NE</text>
<text transform="translate(102.0,1622.2)" font-size="36.5" font-weight="normal" text-anchor="middle">E</text>
<text transform="translate(97.0,1557.8)" font-size="36.5" font-weight="normal" text-anchor="middle">SE</text>
<text transform="translate(100.9,1493.5)" font-size="36.5" font-weight="normal" text-anchor="middle">S</text>
<text transform="translate(97.0,1429.1)" font-size="36.5" font-weight="normal" text-anchor="middle">SW</text>
<text transform="translate(99.6,1364.7)" font-size="36.5" font-weight="normal" text-anchor="middle">W</text>
<text transform="translate(97.6,1300.4)" font-size="36.5" font-weight="normal" text-anchor="middle">NW</text>
<text transform="translate(134.5,1791.5) scale(1.01,1)" font-size="30.5" font-weight="normal" text-anchor="middle">1</text>
<text transform="translate(179.3,1791.5) scale(1.01,1)" font-size="30.5" font-weight="normal" text-anchor="middle">2</text>
<text transform="translate(224.2,1791.5) scale(1.01,1)" font-size="30.5" font-weight="normal" text-anchor="middle">3</text>
<text transform="translate(269.0,1791.5) scale(1.01,1)" font-size="30.5" font-weight="normal" text-anchor="middle">4</text>
<text transform="translate(313.9,1791.5) scale(1.01,1)" font-size="30.5" font-weight="normal" text-anchor="middle">5</text>
<text transform="translate(358.8,1791.5) scale(1.01,1)" font-size="30.5" font-weight="normal" text-anchor="middle">6</text>
<text transform="translate(403.6,1791.5) scale(1.01,1)" font-size="30.5" font-weight="normal" text-anchor="middle">7</text>
<text transform="translate(448.4,1791.5) scale(1.01,1)" font-size="30.5" font-weight="normal" text-anchor="middle">8</text>
<text transform="translate(493.3,1791.5) scale(1.01,1)" font-size="30.5" font-weight="normal" text-anchor="middle">9</text>
<text transform="translate(538.1,1791.5) scale(1.01,1)" font-size="30.5" font-weight="normal" text-anchor="middle">10</text>
<text transform="translate(583.0,1791.5) scale(1.01,1)" font-size="30.5" font-weight="normal" text-anchor="middle">11</text>
<text transform="translate(627.8,1791.5) scale(1.01,1)" font-size="30.5" font-weight="normal" text-anchor="middle">12</text>
<text transform="translate(672.7,1791.5) scale(1.01,1)" font-size="30.5" font-weight="normal" text-anchor="middle">13</text>
<text transform="translate(717.5,1791.5) scale(1.01,1)" font-size="30.5" font-weight="normal" text-anchor="middle">14</text>
<text transform="translate(762.4,1791.5) scale(1.01,1)" font-size="30.5" font-weight="normal" text-anchor="middle">15</text>
<text transform="translate(807.2,1791.5) scale(1.01,1)" font-size="30.5" font-weight="normal" text-anchor="middle">16</text>
<text transform="translate(852.1,1791.5) scale(1.01,1)" font-size="30.5" font-weight="normal" text-anchor="middle">17</text>
<text transform="translate(896.9,1791.5) scale(1.01,1)" font-size="30.5" font-weight="normal" text-anchor="middle">18</text>
<text transform="translate(941.8,1791.5) scale(1.01,1)" font-size="30.5" font-weight="normal" text-anchor="middle">19</text>
<text transform="translate(986.6,1791.5) scale(1.01,1)" font-size="30.5" font-weight="normal" text-anchor="middle">20</text>
<text transform="translate(1031.5,1791.5) scale(1.01,1)" font-size="30.5" font-weight="normal" text-anchor="middle">21</text>
<text transform="translate(1076.3,1791.5) scale(1.01,1)" font-size="30.5" font-weight="normal" text-anchor="middle">22</text>
<text transform="translate(1121.2,1791.5) scale(1.01,1)" font-size="30.5" font-weight="normal" text-anchor="middle">23</text>
<text transform="translate(1166.0,1791.5) scale(1.01,1)" font-size="30.5" font-weight="normal" text-anchor="middle">24</text>
<text transform="translate(1210.9,1791.5) scale(1.01,1)" font-size="30.5" font-weight="normal" text-anchor="middle">25</text>
<text transform="translate(1255.8,1791.5) scale(1.01,1)" font-size="30.5" font-weight="normal" text-anchor="middle">26</text>
<text transform="translate(1300.6,1791.5) scale(1.01,1)" font-size="30.5" font-weight="normal" text-anchor="middle">27</text>
<text transform="translate(1345.5,1791.5) scale(1.01,1)" font-size="30.5" font-weight="normal" text-anchor="middle">28</text>
<text transform="translate(763.0,1826.8) scale(0.958,1)" font-size="34.8" font-weight="bold" text-anchor="middle">days in February 2009</text>
<text transform="translate(30.4,1486.0) rotate(-90) scale(0.977,1)" font-size="35" font-weight="bold" text-anchor="middle">wind direction</text>
</svg>
</body></html>
